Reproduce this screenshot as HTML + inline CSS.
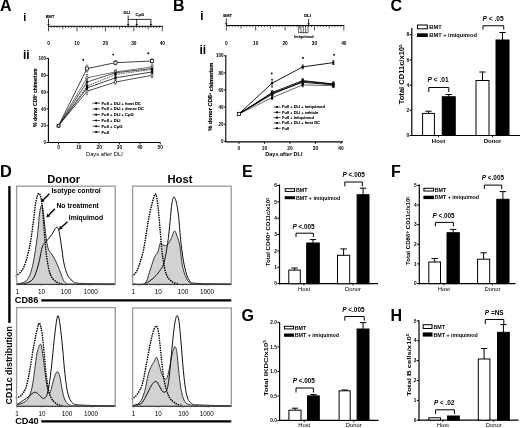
<!DOCTYPE html>
<html><head><meta charset="utf-8"><style>
html,body{margin:0;padding:0;background:#fff;}
svg{display:block;filter:blur(0.3px);}
text{font-family:"Liberation Sans", sans-serif;fill:#000;}
</style></head><body>
<svg width="520" height="428" viewBox="0 0 520 428">
<rect width="520" height="428" fill="#fff"/>
<text x="0.10" y="11.00" font-size="16" text-anchor="start" font-weight="bold">A</text>
<text x="23.20" y="20.80" font-size="11" text-anchor="start" font-weight="bold">i</text>
<text x="23.00" y="58.80" font-size="12" text-anchor="start" font-weight="bold">ii</text>
<line x1="48.20" y1="26.30" x2="162.80" y2="26.30" stroke="#000" stroke-width="1"/>
<line x1="48.50" y1="26.30" x2="48.50" y2="31.30" stroke="#000" stroke-width="0.7"/>
<line x1="51.34" y1="26.30" x2="51.34" y2="27.90" stroke="#000" stroke-width="0.7"/>
<line x1="54.19" y1="26.30" x2="54.19" y2="27.90" stroke="#000" stroke-width="0.7"/>
<line x1="57.03" y1="26.30" x2="57.03" y2="27.90" stroke="#000" stroke-width="0.7"/>
<line x1="59.88" y1="26.30" x2="59.88" y2="27.90" stroke="#000" stroke-width="0.7"/>
<line x1="62.73" y1="26.30" x2="62.73" y2="29.30" stroke="#000" stroke-width="0.7"/>
<line x1="65.57" y1="26.30" x2="65.57" y2="27.90" stroke="#000" stroke-width="0.7"/>
<line x1="68.42" y1="26.30" x2="68.42" y2="27.90" stroke="#000" stroke-width="0.7"/>
<line x1="71.26" y1="26.30" x2="71.26" y2="27.90" stroke="#000" stroke-width="0.7"/>
<line x1="74.11" y1="26.30" x2="74.11" y2="27.90" stroke="#000" stroke-width="0.7"/>
<line x1="76.95" y1="26.30" x2="76.95" y2="31.30" stroke="#000" stroke-width="0.7"/>
<line x1="79.80" y1="26.30" x2="79.80" y2="27.90" stroke="#000" stroke-width="0.7"/>
<line x1="82.64" y1="26.30" x2="82.64" y2="27.90" stroke="#000" stroke-width="0.7"/>
<line x1="85.48" y1="26.30" x2="85.48" y2="27.90" stroke="#000" stroke-width="0.7"/>
<line x1="88.33" y1="26.30" x2="88.33" y2="27.90" stroke="#000" stroke-width="0.7"/>
<line x1="91.18" y1="26.30" x2="91.18" y2="29.30" stroke="#000" stroke-width="0.7"/>
<line x1="94.02" y1="26.30" x2="94.02" y2="27.90" stroke="#000" stroke-width="0.7"/>
<line x1="96.87" y1="26.30" x2="96.87" y2="27.90" stroke="#000" stroke-width="0.7"/>
<line x1="99.71" y1="26.30" x2="99.71" y2="27.90" stroke="#000" stroke-width="0.7"/>
<line x1="102.56" y1="26.30" x2="102.56" y2="27.90" stroke="#000" stroke-width="0.7"/>
<line x1="105.40" y1="26.30" x2="105.40" y2="31.30" stroke="#000" stroke-width="0.7"/>
<line x1="108.25" y1="26.30" x2="108.25" y2="27.90" stroke="#000" stroke-width="0.7"/>
<line x1="111.09" y1="26.30" x2="111.09" y2="27.90" stroke="#000" stroke-width="0.7"/>
<line x1="113.94" y1="26.30" x2="113.94" y2="27.90" stroke="#000" stroke-width="0.7"/>
<line x1="116.78" y1="26.30" x2="116.78" y2="27.90" stroke="#000" stroke-width="0.7"/>
<line x1="119.62" y1="26.30" x2="119.62" y2="29.30" stroke="#000" stroke-width="0.7"/>
<line x1="122.47" y1="26.30" x2="122.47" y2="27.90" stroke="#000" stroke-width="0.7"/>
<line x1="125.32" y1="26.30" x2="125.32" y2="27.90" stroke="#000" stroke-width="0.7"/>
<line x1="128.16" y1="26.30" x2="128.16" y2="27.90" stroke="#000" stroke-width="0.7"/>
<line x1="131.00" y1="26.30" x2="131.00" y2="27.90" stroke="#000" stroke-width="0.7"/>
<line x1="133.85" y1="26.30" x2="133.85" y2="31.30" stroke="#000" stroke-width="0.7"/>
<line x1="136.69" y1="26.30" x2="136.69" y2="27.90" stroke="#000" stroke-width="0.7"/>
<line x1="139.54" y1="26.30" x2="139.54" y2="27.90" stroke="#000" stroke-width="0.7"/>
<line x1="142.38" y1="26.30" x2="142.38" y2="27.90" stroke="#000" stroke-width="0.7"/>
<line x1="145.23" y1="26.30" x2="145.23" y2="27.90" stroke="#000" stroke-width="0.7"/>
<line x1="148.07" y1="26.30" x2="148.07" y2="29.30" stroke="#000" stroke-width="0.7"/>
<line x1="150.92" y1="26.30" x2="150.92" y2="27.90" stroke="#000" stroke-width="0.7"/>
<line x1="153.76" y1="26.30" x2="153.76" y2="27.90" stroke="#000" stroke-width="0.7"/>
<line x1="156.61" y1="26.30" x2="156.61" y2="27.90" stroke="#000" stroke-width="0.7"/>
<line x1="159.46" y1="26.30" x2="159.46" y2="27.90" stroke="#000" stroke-width="0.7"/>
<line x1="162.30" y1="26.30" x2="162.30" y2="31.30" stroke="#000" stroke-width="0.7"/>
<text x="48.50" y="44.70" font-size="4.8" text-anchor="middle" font-weight="bold">0</text>
<text x="76.95" y="44.70" font-size="4.8" text-anchor="middle" font-weight="bold">10</text>
<text x="105.40" y="44.70" font-size="4.8" text-anchor="middle" font-weight="bold">20</text>
<text x="133.85" y="44.70" font-size="4.8" text-anchor="middle" font-weight="bold">30</text>
<text x="162.30" y="44.70" font-size="4.8" text-anchor="middle" font-weight="bold">40</text>
<text x="50.00" y="17.80" font-size="4.0" text-anchor="middle" font-weight="bold" stroke="#000" stroke-width="0.1">BMT</text>
<line x1="48.50" y1="18.80" x2="48.50" y2="24.40" stroke="#000" stroke-width="0.8"/>
<path d="M47.30,24.10 L49.70,24.10 L48.50,26.30 Z" fill="#000" stroke="none" stroke-width="1"/>
<text x="126.90" y="14.20" font-size="4.2" text-anchor="middle" font-weight="bold" stroke="#000" stroke-width="0.1">DLI</text>
<line x1="128.16" y1="15.50" x2="128.16" y2="24.40" stroke="#000" stroke-width="0.8"/>
<path d="M126.96,24.10 L129.36,24.10 L128.16,26.30 Z" fill="#000" stroke="none" stroke-width="1"/>
<line x1="128.16" y1="19.40" x2="150.92" y2="19.40" stroke="#000" stroke-width="0.8"/>
<line x1="136.69" y1="19.40" x2="136.69" y2="24.40" stroke="#000" stroke-width="0.8"/>
<path d="M135.50,24.10 L137.89,24.10 L136.69,26.30 Z" fill="#000" stroke="none" stroke-width="1"/>
<line x1="150.92" y1="19.40" x2="150.92" y2="24.40" stroke="#000" stroke-width="0.8"/>
<path d="M149.72,24.10 L152.12,24.10 L150.92,26.30 Z" fill="#000" stroke="none" stroke-width="1"/>
<text x="139.90" y="15.60" font-size="4.2" text-anchor="middle" font-weight="bold" stroke="#000" stroke-width="0.1">CpG</text>
<line x1="48.40" y1="58.00" x2="48.40" y2="143.00" stroke="#000" stroke-width="1.1"/>
<line x1="47.90" y1="142.50" x2="160.50" y2="142.50" stroke="#000" stroke-width="1.1"/>
<line x1="46.40" y1="142.50" x2="48.40" y2="142.50" stroke="#000" stroke-width="0.9"/>
<text x="46.10" y="144.10" font-size="4.5" text-anchor="end" font-weight="bold">0</text>
<line x1="46.40" y1="125.70" x2="48.40" y2="125.70" stroke="#000" stroke-width="0.9"/>
<text x="46.10" y="127.30" font-size="4.5" text-anchor="end" font-weight="bold">20</text>
<line x1="46.40" y1="108.90" x2="48.40" y2="108.90" stroke="#000" stroke-width="0.9"/>
<text x="46.10" y="110.50" font-size="4.5" text-anchor="end" font-weight="bold">40</text>
<line x1="46.40" y1="92.10" x2="48.40" y2="92.10" stroke="#000" stroke-width="0.9"/>
<text x="46.10" y="93.70" font-size="4.5" text-anchor="end" font-weight="bold">60</text>
<line x1="46.40" y1="75.30" x2="48.40" y2="75.30" stroke="#000" stroke-width="0.9"/>
<text x="46.10" y="76.90" font-size="4.5" text-anchor="end" font-weight="bold">80</text>
<line x1="46.40" y1="58.50" x2="48.40" y2="58.50" stroke="#000" stroke-width="0.9"/>
<text x="46.10" y="60.10" font-size="4.5" text-anchor="end" font-weight="bold">100</text>
<line x1="58.50" y1="142.50" x2="58.50" y2="144.50" stroke="#000" stroke-width="0.9"/>
<text x="58.50" y="149.30" font-size="4.8" text-anchor="middle" font-weight="bold">0</text>
<line x1="78.84" y1="142.50" x2="78.84" y2="144.50" stroke="#000" stroke-width="0.9"/>
<text x="78.84" y="149.30" font-size="4.8" text-anchor="middle" font-weight="bold">10</text>
<line x1="99.18" y1="142.50" x2="99.18" y2="144.50" stroke="#000" stroke-width="0.9"/>
<text x="99.18" y="149.30" font-size="4.8" text-anchor="middle" font-weight="bold">20</text>
<line x1="119.52" y1="142.50" x2="119.52" y2="144.50" stroke="#000" stroke-width="0.9"/>
<text x="119.52" y="149.30" font-size="4.8" text-anchor="middle" font-weight="bold">30</text>
<line x1="139.86" y1="142.50" x2="139.86" y2="144.50" stroke="#000" stroke-width="0.9"/>
<text x="139.86" y="149.30" font-size="4.8" text-anchor="middle" font-weight="bold">40</text>
<line x1="160.20" y1="142.50" x2="160.20" y2="144.50" stroke="#000" stroke-width="0.9"/>
<text x="160.20" y="149.30" font-size="4.8" text-anchor="middle" font-weight="bold">50</text>
<text x="104.40" y="156.00" font-size="5.75" text-anchor="middle" font-weight="normal">Days after DLI</text>
<text x="36.60" y="97.60" font-size="4.9" text-anchor="middle" font-weight="bold" stroke="#000" stroke-width="0.15" textLength="58.3" lengthAdjust="spacingAndGlyphs" transform="rotate(-90 36.6 97.6)">% donor CD8<tspan font-size="0.65em" dy="-0.4em">+</tspan><tspan dy="0.4em"> chimerism</tspan></text>
<path d="M58.50,125.70 L86.98,68.58 L115.45,62.70 L152.06,61.02" fill="none" stroke="#111" stroke-width="0.8"/>
<path d="M58.50,125.70 L86.98,77.82 L115.45,71.94 L152.06,66.90" fill="none" stroke="#555" stroke-width="0.8"/>
<path d="M58.50,125.70 L86.98,82.02 L115.45,72.78 L152.06,68.58" fill="none" stroke="#222" stroke-width="0.8"/>
<path d="M58.50,125.70 L86.98,86.22 L115.45,74.46 L152.06,69.42" fill="none" stroke="#333" stroke-width="0.8" stroke-dasharray="1.6 0.9"/>
<path d="M58.50,125.70 L86.98,87.90 L115.45,77.82 L152.06,71.94" fill="none" stroke="#111" stroke-width="0.8"/>
<path d="M58.50,125.70 L86.98,91.26 L115.45,82.02 L152.06,75.30" fill="none" stroke="#222" stroke-width="0.8"/>
<line x1="86.98" y1="71.94" x2="86.98" y2="65.22" stroke="#222" stroke-width="0.6"/>
<line x1="85.78" y1="65.22" x2="88.18" y2="65.22" stroke="#222" stroke-width="0.6"/>
<line x1="85.78" y1="71.94" x2="88.18" y2="71.94" stroke="#222" stroke-width="0.6"/>
<line x1="115.45" y1="64.80" x2="115.45" y2="60.60" stroke="#222" stroke-width="0.6"/>
<line x1="114.25" y1="60.60" x2="116.65" y2="60.60" stroke="#222" stroke-width="0.6"/>
<line x1="114.25" y1="64.80" x2="116.65" y2="64.80" stroke="#222" stroke-width="0.6"/>
<line x1="152.06" y1="63.12" x2="152.06" y2="58.92" stroke="#222" stroke-width="0.6"/>
<line x1="150.86" y1="58.92" x2="153.26" y2="58.92" stroke="#222" stroke-width="0.6"/>
<line x1="150.86" y1="63.12" x2="153.26" y2="63.12" stroke="#222" stroke-width="0.6"/>
<line x1="86.98" y1="81.18" x2="86.98" y2="74.46" stroke="#222" stroke-width="0.6"/>
<line x1="85.78" y1="74.46" x2="88.18" y2="74.46" stroke="#222" stroke-width="0.6"/>
<line x1="85.78" y1="81.18" x2="88.18" y2="81.18" stroke="#222" stroke-width="0.6"/>
<line x1="115.45" y1="74.04" x2="115.45" y2="69.84" stroke="#222" stroke-width="0.6"/>
<line x1="114.25" y1="69.84" x2="116.65" y2="69.84" stroke="#222" stroke-width="0.6"/>
<line x1="114.25" y1="74.04" x2="116.65" y2="74.04" stroke="#222" stroke-width="0.6"/>
<line x1="152.06" y1="69.00" x2="152.06" y2="64.80" stroke="#222" stroke-width="0.6"/>
<line x1="150.86" y1="64.80" x2="153.26" y2="64.80" stroke="#222" stroke-width="0.6"/>
<line x1="150.86" y1="69.00" x2="153.26" y2="69.00" stroke="#222" stroke-width="0.6"/>
<line x1="86.98" y1="85.38" x2="86.98" y2="78.66" stroke="#222" stroke-width="0.6"/>
<line x1="85.78" y1="78.66" x2="88.18" y2="78.66" stroke="#222" stroke-width="0.6"/>
<line x1="85.78" y1="85.38" x2="88.18" y2="85.38" stroke="#222" stroke-width="0.6"/>
<line x1="115.45" y1="74.88" x2="115.45" y2="70.68" stroke="#222" stroke-width="0.6"/>
<line x1="114.25" y1="70.68" x2="116.65" y2="70.68" stroke="#222" stroke-width="0.6"/>
<line x1="114.25" y1="74.88" x2="116.65" y2="74.88" stroke="#222" stroke-width="0.6"/>
<line x1="152.06" y1="70.68" x2="152.06" y2="66.48" stroke="#222" stroke-width="0.6"/>
<line x1="150.86" y1="66.48" x2="153.26" y2="66.48" stroke="#222" stroke-width="0.6"/>
<line x1="150.86" y1="70.68" x2="153.26" y2="70.68" stroke="#222" stroke-width="0.6"/>
<line x1="86.98" y1="89.58" x2="86.98" y2="82.86" stroke="#222" stroke-width="0.6"/>
<line x1="85.78" y1="82.86" x2="88.18" y2="82.86" stroke="#222" stroke-width="0.6"/>
<line x1="85.78" y1="89.58" x2="88.18" y2="89.58" stroke="#222" stroke-width="0.6"/>
<line x1="115.45" y1="76.56" x2="115.45" y2="72.36" stroke="#222" stroke-width="0.6"/>
<line x1="114.25" y1="72.36" x2="116.65" y2="72.36" stroke="#222" stroke-width="0.6"/>
<line x1="114.25" y1="76.56" x2="116.65" y2="76.56" stroke="#222" stroke-width="0.6"/>
<line x1="152.06" y1="71.52" x2="152.06" y2="67.32" stroke="#222" stroke-width="0.6"/>
<line x1="150.86" y1="67.32" x2="153.26" y2="67.32" stroke="#222" stroke-width="0.6"/>
<line x1="150.86" y1="71.52" x2="153.26" y2="71.52" stroke="#222" stroke-width="0.6"/>
<line x1="86.98" y1="91.26" x2="86.98" y2="84.54" stroke="#222" stroke-width="0.6"/>
<line x1="85.78" y1="84.54" x2="88.18" y2="84.54" stroke="#222" stroke-width="0.6"/>
<line x1="85.78" y1="91.26" x2="88.18" y2="91.26" stroke="#222" stroke-width="0.6"/>
<line x1="115.45" y1="79.92" x2="115.45" y2="75.72" stroke="#222" stroke-width="0.6"/>
<line x1="114.25" y1="75.72" x2="116.65" y2="75.72" stroke="#222" stroke-width="0.6"/>
<line x1="114.25" y1="79.92" x2="116.65" y2="79.92" stroke="#222" stroke-width="0.6"/>
<line x1="152.06" y1="74.04" x2="152.06" y2="69.84" stroke="#222" stroke-width="0.6"/>
<line x1="150.86" y1="69.84" x2="153.26" y2="69.84" stroke="#222" stroke-width="0.6"/>
<line x1="150.86" y1="74.04" x2="153.26" y2="74.04" stroke="#222" stroke-width="0.6"/>
<line x1="86.98" y1="94.62" x2="86.98" y2="87.90" stroke="#222" stroke-width="0.6"/>
<line x1="85.78" y1="87.90" x2="88.18" y2="87.90" stroke="#222" stroke-width="0.6"/>
<line x1="85.78" y1="94.62" x2="88.18" y2="94.62" stroke="#222" stroke-width="0.6"/>
<line x1="115.45" y1="84.12" x2="115.45" y2="79.92" stroke="#222" stroke-width="0.6"/>
<line x1="114.25" y1="79.92" x2="116.65" y2="79.92" stroke="#222" stroke-width="0.6"/>
<line x1="114.25" y1="84.12" x2="116.65" y2="84.12" stroke="#222" stroke-width="0.6"/>
<line x1="152.06" y1="77.40" x2="152.06" y2="73.20" stroke="#222" stroke-width="0.6"/>
<line x1="150.86" y1="73.20" x2="153.26" y2="73.20" stroke="#222" stroke-width="0.6"/>
<line x1="150.86" y1="77.40" x2="153.26" y2="77.40" stroke="#222" stroke-width="0.6"/>
<rect x="57.00" y="124.20" width="3.00" height="3.00" fill="#fff" stroke="#000" stroke-width="0.7"/>
<rect x="85.48" y="67.08" width="3.00" height="3.00" fill="#fff" stroke="#000" stroke-width="0.7"/>
<rect x="113.95" y="61.20" width="3.00" height="3.00" fill="#fff" stroke="#000" stroke-width="0.7"/>
<rect x="150.56" y="59.52" width="3.00" height="3.00" fill="#fff" stroke="#000" stroke-width="0.7"/>
<circle cx="58.50" cy="125.70" r="1.2" fill="#fff" stroke="#000" stroke-width="0.6"/>
<circle cx="86.98" cy="77.82" r="1.2" fill="#fff" stroke="#000" stroke-width="0.6"/>
<circle cx="115.45" cy="71.94" r="1.2" fill="#fff" stroke="#000" stroke-width="0.6"/>
<circle cx="152.06" cy="66.90" r="1.2" fill="#fff" stroke="#000" stroke-width="0.6"/>
<path d="M57.10,126.80 L59.90,126.80 L58.50,124.30 Z" fill="#000"/>
<path d="M85.58,83.12 L88.38,83.12 L86.98,80.62 Z" fill="#000"/>
<path d="M114.05,73.88 L116.85,73.88 L115.45,71.38 Z" fill="#000"/>
<path d="M150.66,69.68 L153.46,69.68 L152.06,67.18 Z" fill="#000"/>
<path d="M57.10,125.70 L58.50,124.30 L59.90,125.70 L58.50,127.10 Z" fill="#000"/>
<path d="M85.58,86.22 L86.98,84.82 L88.38,86.22 L86.98,87.62 Z" fill="#000"/>
<path d="M114.05,74.46 L115.45,73.06 L116.85,74.46 L115.45,75.86 Z" fill="#000"/>
<path d="M150.66,69.42 L152.06,68.02 L153.46,69.42 L152.06,70.82 Z" fill="#000"/>
<circle cx="58.50" cy="125.70" r="1.2" fill="#000"/>
<circle cx="86.98" cy="87.90" r="1.2" fill="#000"/>
<circle cx="115.45" cy="77.82" r="1.2" fill="#000"/>
<circle cx="152.06" cy="71.94" r="1.2" fill="#000"/>
<circle cx="58.50" cy="125.70" r="1.2" fill="#fff" stroke="#000" stroke-width="0.6"/>
<circle cx="86.98" cy="91.26" r="1.2" fill="#fff" stroke="#000" stroke-width="0.6"/>
<circle cx="115.45" cy="82.02" r="1.2" fill="#fff" stroke="#000" stroke-width="0.6"/>
<circle cx="152.06" cy="75.30" r="1.2" fill="#fff" stroke="#000" stroke-width="0.6"/>
<circle cx="83.2" cy="59.7" r="0.95" fill="#000"/>
<circle cx="113.2" cy="54.6" r="0.95" fill="#000"/>
<circle cx="148.3" cy="53.3" r="0.95" fill="#000"/>
<line x1="92.50" y1="103.20" x2="100.00" y2="103.20" stroke="#000" stroke-width="0.7"/>
<circle cx="96.2" cy="103.20" r="1.1" fill="#000"/>
<text x="101.60" y="104.70" font-size="4.15" text-anchor="start" font-weight="bold" stroke="#000" stroke-width="0.1">Full + DLI + host DC</text>
<line x1="92.50" y1="108.96" x2="100.00" y2="108.96" stroke="#000" stroke-width="0.7"/>
<circle cx="96.2" cy="108.96" r="1.1" fill="#000"/>
<text x="101.60" y="110.46" font-size="4.15" text-anchor="start" font-weight="bold" stroke="#000" stroke-width="0.1">Full + DLI + donor DC</text>
<line x1="92.50" y1="114.72" x2="100.00" y2="114.72" stroke="#000" stroke-width="0.7"/>
<circle cx="96.2" cy="114.72" r="1.1" fill="#000"/>
<text x="101.60" y="116.22" font-size="4.15" text-anchor="start" font-weight="bold" stroke="#000" stroke-width="0.1">Full + DLI + CpG</text>
<line x1="92.50" y1="120.48" x2="100.00" y2="120.48" stroke="#000" stroke-width="0.7"/>
<circle cx="96.2" cy="120.48" r="1.1" fill="#000"/>
<text x="101.60" y="121.98" font-size="4.15" text-anchor="start" font-weight="bold" stroke="#000" stroke-width="0.1">Full + DLI</text>
<line x1="92.50" y1="126.24" x2="100.00" y2="126.24" stroke="#000" stroke-width="0.7"/>
<circle cx="96.2" cy="126.24" r="1.1" fill="#000"/>
<text x="101.60" y="127.74" font-size="4.15" text-anchor="start" font-weight="bold" stroke="#000" stroke-width="0.1">Full + CpG</text>
<line x1="92.50" y1="132.00" x2="100.00" y2="132.00" stroke="#000" stroke-width="0.7"/>
<circle cx="96.2" cy="132.00" r="1.1" fill="#000"/>
<text x="101.60" y="133.50" font-size="4.15" text-anchor="start" font-weight="bold" stroke="#000" stroke-width="0.1">Full</text>
<text x="172.90" y="11.10" font-size="16" text-anchor="start" font-weight="bold">B</text>
<text x="200.30" y="20.10" font-size="12" text-anchor="start" font-weight="bold">i</text>
<text x="199.50" y="53.60" font-size="12" text-anchor="start" font-weight="bold">ii</text>
<line x1="226.00" y1="25.50" x2="344.30" y2="25.50" stroke="#000" stroke-width="1"/>
<line x1="226.30" y1="25.50" x2="226.30" y2="30.50" stroke="#000" stroke-width="0.7"/>
<line x1="229.24" y1="25.50" x2="229.24" y2="27.10" stroke="#000" stroke-width="0.7"/>
<line x1="232.18" y1="25.50" x2="232.18" y2="27.10" stroke="#000" stroke-width="0.7"/>
<line x1="235.11" y1="25.50" x2="235.11" y2="27.10" stroke="#000" stroke-width="0.7"/>
<line x1="238.05" y1="25.50" x2="238.05" y2="27.10" stroke="#000" stroke-width="0.7"/>
<line x1="240.99" y1="25.50" x2="240.99" y2="28.50" stroke="#000" stroke-width="0.7"/>
<line x1="243.93" y1="25.50" x2="243.93" y2="27.10" stroke="#000" stroke-width="0.7"/>
<line x1="246.86" y1="25.50" x2="246.86" y2="27.10" stroke="#000" stroke-width="0.7"/>
<line x1="249.80" y1="25.50" x2="249.80" y2="27.10" stroke="#000" stroke-width="0.7"/>
<line x1="252.74" y1="25.50" x2="252.74" y2="27.10" stroke="#000" stroke-width="0.7"/>
<line x1="255.68" y1="25.50" x2="255.68" y2="30.50" stroke="#000" stroke-width="0.7"/>
<line x1="258.61" y1="25.50" x2="258.61" y2="27.10" stroke="#000" stroke-width="0.7"/>
<line x1="261.55" y1="25.50" x2="261.55" y2="27.10" stroke="#000" stroke-width="0.7"/>
<line x1="264.49" y1="25.50" x2="264.49" y2="27.10" stroke="#000" stroke-width="0.7"/>
<line x1="267.43" y1="25.50" x2="267.43" y2="27.10" stroke="#000" stroke-width="0.7"/>
<line x1="270.36" y1="25.50" x2="270.36" y2="28.50" stroke="#000" stroke-width="0.7"/>
<line x1="273.30" y1="25.50" x2="273.30" y2="27.10" stroke="#000" stroke-width="0.7"/>
<line x1="276.24" y1="25.50" x2="276.24" y2="27.10" stroke="#000" stroke-width="0.7"/>
<line x1="279.18" y1="25.50" x2="279.18" y2="27.10" stroke="#000" stroke-width="0.7"/>
<line x1="282.11" y1="25.50" x2="282.11" y2="27.10" stroke="#000" stroke-width="0.7"/>
<line x1="285.05" y1="25.50" x2="285.05" y2="30.50" stroke="#000" stroke-width="0.7"/>
<line x1="287.99" y1="25.50" x2="287.99" y2="27.10" stroke="#000" stroke-width="0.7"/>
<line x1="290.93" y1="25.50" x2="290.93" y2="27.10" stroke="#000" stroke-width="0.7"/>
<line x1="293.86" y1="25.50" x2="293.86" y2="27.10" stroke="#000" stroke-width="0.7"/>
<line x1="296.80" y1="25.50" x2="296.80" y2="27.10" stroke="#000" stroke-width="0.7"/>
<line x1="299.74" y1="25.50" x2="299.74" y2="28.50" stroke="#000" stroke-width="0.7"/>
<line x1="302.68" y1="25.50" x2="302.68" y2="27.10" stroke="#000" stroke-width="0.7"/>
<line x1="305.61" y1="25.50" x2="305.61" y2="27.10" stroke="#000" stroke-width="0.7"/>
<line x1="308.55" y1="25.50" x2="308.55" y2="27.10" stroke="#000" stroke-width="0.7"/>
<line x1="311.49" y1="25.50" x2="311.49" y2="27.10" stroke="#000" stroke-width="0.7"/>
<line x1="314.43" y1="25.50" x2="314.43" y2="30.50" stroke="#000" stroke-width="0.7"/>
<line x1="317.36" y1="25.50" x2="317.36" y2="27.10" stroke="#000" stroke-width="0.7"/>
<line x1="320.30" y1="25.50" x2="320.30" y2="27.10" stroke="#000" stroke-width="0.7"/>
<line x1="323.24" y1="25.50" x2="323.24" y2="27.10" stroke="#000" stroke-width="0.7"/>
<line x1="326.18" y1="25.50" x2="326.18" y2="27.10" stroke="#000" stroke-width="0.7"/>
<line x1="329.11" y1="25.50" x2="329.11" y2="28.50" stroke="#000" stroke-width="0.7"/>
<line x1="332.05" y1="25.50" x2="332.05" y2="27.10" stroke="#000" stroke-width="0.7"/>
<line x1="334.99" y1="25.50" x2="334.99" y2="27.10" stroke="#000" stroke-width="0.7"/>
<line x1="337.93" y1="25.50" x2="337.93" y2="27.10" stroke="#000" stroke-width="0.7"/>
<line x1="340.86" y1="25.50" x2="340.86" y2="27.10" stroke="#000" stroke-width="0.7"/>
<line x1="343.80" y1="25.50" x2="343.80" y2="30.50" stroke="#000" stroke-width="0.7"/>
<text x="226.30" y="44.50" font-size="4.8" text-anchor="middle" font-weight="bold">0</text>
<text x="255.68" y="44.50" font-size="4.8" text-anchor="middle" font-weight="bold">10</text>
<text x="285.05" y="44.50" font-size="4.8" text-anchor="middle" font-weight="bold">20</text>
<text x="314.43" y="44.50" font-size="4.8" text-anchor="middle" font-weight="bold">30</text>
<text x="343.80" y="44.50" font-size="4.8" text-anchor="middle" font-weight="bold">40</text>
<text x="227.70" y="16.80" font-size="4.0" text-anchor="middle" font-weight="bold" stroke="#000" stroke-width="0.1">BMT</text>
<line x1="226.30" y1="18.30" x2="226.30" y2="23.60" stroke="#000" stroke-width="0.8"/>
<path d="M225.10,23.30 L227.50,23.30 L226.30,25.50 Z" fill="#000" stroke="none" stroke-width="1"/>
<text x="307.50" y="16.90" font-size="4.4" text-anchor="middle" font-weight="bold" stroke="#000" stroke-width="0.1">DLI</text>
<line x1="308.55" y1="18.80" x2="308.55" y2="23.60" stroke="#000" stroke-width="0.8"/>
<path d="M307.35,23.30 L309.75,23.30 L308.55,25.50 Z" fill="#000" stroke="none" stroke-width="1"/>
<line x1="298.60" y1="25.50" x2="298.60" y2="32.70" stroke="#000" stroke-width="0.6"/>
<line x1="300.95" y1="25.50" x2="300.95" y2="32.70" stroke="#000" stroke-width="0.6"/>
<line x1="303.30" y1="25.50" x2="303.30" y2="32.70" stroke="#000" stroke-width="0.6"/>
<line x1="305.65" y1="25.50" x2="305.65" y2="32.70" stroke="#000" stroke-width="0.6"/>
<line x1="308.00" y1="25.50" x2="308.00" y2="32.70" stroke="#000" stroke-width="0.6"/>
<line x1="298.60" y1="32.70" x2="308.00" y2="32.70" stroke="#000" stroke-width="0.7"/>
<text x="303.90" y="37.60" font-size="4.2" text-anchor="middle" font-weight="bold" stroke="#000" stroke-width="0.1" textLength="19.5" lengthAdjust="spacingAndGlyphs">Imiquimod</text>
<line x1="225.80" y1="55.30" x2="225.80" y2="141.80" stroke="#000" stroke-width="1.1"/>
<line x1="225.30" y1="141.90" x2="343.00" y2="141.90" stroke="#000" stroke-width="1.1"/>
<line x1="223.80" y1="141.30" x2="225.80" y2="141.30" stroke="#000" stroke-width="0.9"/>
<text x="223.50" y="142.90" font-size="4.5" text-anchor="end" font-weight="bold">0</text>
<line x1="223.80" y1="124.20" x2="225.80" y2="124.20" stroke="#000" stroke-width="0.9"/>
<text x="223.50" y="125.80" font-size="4.5" text-anchor="end" font-weight="bold">20</text>
<line x1="223.80" y1="107.10" x2="225.80" y2="107.10" stroke="#000" stroke-width="0.9"/>
<text x="223.50" y="108.70" font-size="4.5" text-anchor="end" font-weight="bold">40</text>
<line x1="223.80" y1="90.00" x2="225.80" y2="90.00" stroke="#000" stroke-width="0.9"/>
<text x="223.50" y="91.60" font-size="4.5" text-anchor="end" font-weight="bold">60</text>
<line x1="223.80" y1="72.90" x2="225.80" y2="72.90" stroke="#000" stroke-width="0.9"/>
<text x="223.50" y="74.50" font-size="4.5" text-anchor="end" font-weight="bold">80</text>
<line x1="223.80" y1="55.80" x2="225.80" y2="55.80" stroke="#000" stroke-width="0.9"/>
<text x="223.50" y="57.40" font-size="4.5" text-anchor="end" font-weight="bold">100</text>
<line x1="238.90" y1="141.90" x2="238.90" y2="143.90" stroke="#000" stroke-width="0.9"/>
<text x="238.90" y="149.50" font-size="4.8" text-anchor="middle" font-weight="bold">0</text>
<line x1="264.43" y1="141.90" x2="264.43" y2="143.90" stroke="#000" stroke-width="0.9"/>
<text x="264.43" y="149.50" font-size="4.8" text-anchor="middle" font-weight="bold">10</text>
<line x1="289.95" y1="141.90" x2="289.95" y2="143.90" stroke="#000" stroke-width="0.9"/>
<text x="289.95" y="149.50" font-size="4.8" text-anchor="middle" font-weight="bold">20</text>
<line x1="315.48" y1="141.90" x2="315.48" y2="143.90" stroke="#000" stroke-width="0.9"/>
<text x="315.48" y="149.50" font-size="4.8" text-anchor="middle" font-weight="bold">30</text>
<line x1="341.00" y1="141.90" x2="341.00" y2="143.90" stroke="#000" stroke-width="0.9"/>
<text x="341.00" y="149.50" font-size="4.8" text-anchor="middle" font-weight="bold">40</text>
<text x="283.90" y="155.70" font-size="5.55" text-anchor="middle" font-weight="bold">Days after DLI</text>
<text x="212.30" y="96.70" font-size="5.4" text-anchor="middle" font-weight="bold" stroke="#000" stroke-width="0.18" textLength="68.2" lengthAdjust="spacingAndGlyphs" transform="rotate(-90 212.3 96.7)">% donor CD8<tspan font-size="0.65em" dy="-0.4em">+</tspan><tspan dy="0.4em"> chimerism</tspan></text>
<path d="M238.90,113.94 L272.08,83.16 L302.71,66.92 L333.34,62.64" fill="none" stroke="#000" stroke-width="0.9"/>
<circle cx="238.90" cy="113.94" r="1.2" fill="#000"/>
<circle cx="272.08" cy="83.16" r="1.2" fill="#000"/>
<circle cx="302.71" cy="66.92" r="1.2" fill="#000"/>
<circle cx="333.34" cy="62.64" r="1.2" fill="#000"/>
<path d="M238.90,113.94 L272.08,92.56 L302.71,80.59 L333.34,84.02" fill="none" stroke="#000" stroke-width="0.9"/>
<circle cx="238.90" cy="113.94" r="1.2" fill="#000"/>
<circle cx="272.08" cy="92.56" r="1.2" fill="#000"/>
<circle cx="302.71" cy="80.59" r="1.2" fill="#000"/>
<circle cx="333.34" cy="84.02" r="1.2" fill="#000"/>
<path d="M238.90,113.94 L272.08,94.28 L302.71,81.45 L333.34,84.02" fill="none" stroke="#000" stroke-width="0.9"/>
<circle cx="238.90" cy="113.94" r="1.2" fill="#000"/>
<circle cx="272.08" cy="94.28" r="1.2" fill="#000"/>
<circle cx="302.71" cy="81.45" r="1.2" fill="#000"/>
<circle cx="333.34" cy="84.02" r="1.2" fill="#000"/>
<path d="M238.90,113.94 L272.08,93.42 L302.71,82.31 L333.34,84.87" fill="none" stroke="#000" stroke-width="0.9"/>
<circle cx="238.90" cy="113.94" r="1.2" fill="#000"/>
<circle cx="272.08" cy="93.42" r="1.2" fill="#000"/>
<circle cx="302.71" cy="82.31" r="1.2" fill="#000"/>
<circle cx="333.34" cy="84.87" r="1.2" fill="#000"/>
<path d="M238.90,113.94 L272.08,97.69 L302.71,84.87 L333.34,85.72" fill="none" stroke="#000" stroke-width="0.6"/>
<circle cx="238.90" cy="113.94" r="1.2" fill="#000"/>
<circle cx="272.08" cy="97.69" r="1.2" fill="#000"/>
<circle cx="302.71" cy="84.87" r="1.2" fill="#000"/>
<circle cx="333.34" cy="85.72" r="1.2" fill="#000"/>
<rect x="237.30" y="112.34" width="3.20" height="3.20" fill="#fff" stroke="#000" stroke-width="0.8"/>
<line x1="272.08" y1="87.01" x2="272.08" y2="79.31" stroke="#000" stroke-width="0.7"/>
<line x1="270.88" y1="79.31" x2="273.28" y2="79.31" stroke="#000" stroke-width="0.7"/>
<line x1="270.88" y1="87.01" x2="273.28" y2="87.01" stroke="#000" stroke-width="0.7"/>
<line x1="302.71" y1="68.80" x2="302.71" y2="65.03" stroke="#000" stroke-width="0.7"/>
<line x1="301.51" y1="65.03" x2="303.91" y2="65.03" stroke="#000" stroke-width="0.7"/>
<line x1="301.51" y1="68.80" x2="303.91" y2="68.80" stroke="#000" stroke-width="0.7"/>
<line x1="333.34" y1="64.52" x2="333.34" y2="60.76" stroke="#000" stroke-width="0.7"/>
<line x1="332.14" y1="60.76" x2="334.54" y2="60.76" stroke="#000" stroke-width="0.7"/>
<line x1="332.14" y1="64.52" x2="334.54" y2="64.52" stroke="#000" stroke-width="0.7"/>
<line x1="272.08" y1="94.45" x2="272.08" y2="90.68" stroke="#000" stroke-width="0.7"/>
<line x1="270.88" y1="90.68" x2="273.28" y2="90.68" stroke="#000" stroke-width="0.7"/>
<line x1="270.88" y1="94.45" x2="273.28" y2="94.45" stroke="#000" stroke-width="0.7"/>
<line x1="302.71" y1="82.48" x2="302.71" y2="78.71" stroke="#000" stroke-width="0.7"/>
<line x1="301.51" y1="78.71" x2="303.91" y2="78.71" stroke="#000" stroke-width="0.7"/>
<line x1="301.51" y1="82.48" x2="303.91" y2="82.48" stroke="#000" stroke-width="0.7"/>
<line x1="333.34" y1="85.90" x2="333.34" y2="82.13" stroke="#000" stroke-width="0.7"/>
<line x1="332.14" y1="82.13" x2="334.54" y2="82.13" stroke="#000" stroke-width="0.7"/>
<line x1="332.14" y1="85.90" x2="334.54" y2="85.90" stroke="#000" stroke-width="0.7"/>
<line x1="272.08" y1="96.16" x2="272.08" y2="92.39" stroke="#000" stroke-width="0.7"/>
<line x1="270.88" y1="92.39" x2="273.28" y2="92.39" stroke="#000" stroke-width="0.7"/>
<line x1="270.88" y1="96.16" x2="273.28" y2="96.16" stroke="#000" stroke-width="0.7"/>
<line x1="302.71" y1="83.33" x2="302.71" y2="79.57" stroke="#000" stroke-width="0.7"/>
<line x1="301.51" y1="79.57" x2="303.91" y2="79.57" stroke="#000" stroke-width="0.7"/>
<line x1="301.51" y1="83.33" x2="303.91" y2="83.33" stroke="#000" stroke-width="0.7"/>
<line x1="333.34" y1="85.90" x2="333.34" y2="82.13" stroke="#000" stroke-width="0.7"/>
<line x1="332.14" y1="82.13" x2="334.54" y2="82.13" stroke="#000" stroke-width="0.7"/>
<line x1="332.14" y1="85.90" x2="334.54" y2="85.90" stroke="#000" stroke-width="0.7"/>
<line x1="272.08" y1="95.30" x2="272.08" y2="91.54" stroke="#000" stroke-width="0.7"/>
<line x1="270.88" y1="91.54" x2="273.28" y2="91.54" stroke="#000" stroke-width="0.7"/>
<line x1="270.88" y1="95.30" x2="273.28" y2="95.30" stroke="#000" stroke-width="0.7"/>
<line x1="302.71" y1="84.19" x2="302.71" y2="80.42" stroke="#000" stroke-width="0.7"/>
<line x1="301.51" y1="80.42" x2="303.91" y2="80.42" stroke="#000" stroke-width="0.7"/>
<line x1="301.51" y1="84.19" x2="303.91" y2="84.19" stroke="#000" stroke-width="0.7"/>
<line x1="333.34" y1="86.75" x2="333.34" y2="82.99" stroke="#000" stroke-width="0.7"/>
<line x1="332.14" y1="82.99" x2="334.54" y2="82.99" stroke="#000" stroke-width="0.7"/>
<line x1="332.14" y1="86.75" x2="334.54" y2="86.75" stroke="#000" stroke-width="0.7"/>
<line x1="272.08" y1="99.58" x2="272.08" y2="95.81" stroke="#000" stroke-width="0.7"/>
<line x1="270.88" y1="95.81" x2="273.28" y2="95.81" stroke="#000" stroke-width="0.7"/>
<line x1="270.88" y1="99.58" x2="273.28" y2="99.58" stroke="#000" stroke-width="0.7"/>
<line x1="302.71" y1="86.75" x2="302.71" y2="82.99" stroke="#000" stroke-width="0.7"/>
<line x1="301.51" y1="82.99" x2="303.91" y2="82.99" stroke="#000" stroke-width="0.7"/>
<line x1="301.51" y1="86.75" x2="303.91" y2="86.75" stroke="#000" stroke-width="0.7"/>
<line x1="333.34" y1="87.61" x2="333.34" y2="83.84" stroke="#000" stroke-width="0.7"/>
<line x1="332.14" y1="83.84" x2="334.54" y2="83.84" stroke="#000" stroke-width="0.7"/>
<line x1="332.14" y1="87.61" x2="334.54" y2="87.61" stroke="#000" stroke-width="0.7"/>
<circle cx="271.7" cy="73.4" r="0.95" fill="#000"/>
<circle cx="302.9" cy="58.0" r="0.95" fill="#000"/>
<circle cx="334.0" cy="54.7" r="0.95" fill="#000"/>
<line x1="273.50" y1="107.00" x2="280.50" y2="107.00" stroke="#000" stroke-width="0.7"/>
<circle cx="277" cy="107.00" r="1.1" fill="#000"/>
<text x="282.00" y="108.40" font-size="4.0" text-anchor="start" font-weight="bold" stroke="#000" stroke-width="0.1">Full + DLI + imiquimod</text>
<line x1="273.50" y1="112.33" x2="280.50" y2="112.33" stroke="#000" stroke-width="0.7"/>
<circle cx="277" cy="112.33" r="1.1" fill="#000"/>
<text x="282.00" y="113.73" font-size="4.0" text-anchor="start" font-weight="bold" stroke="#000" stroke-width="0.1">Full + DLI + vehicle</text>
<line x1="273.50" y1="117.66" x2="280.50" y2="117.66" stroke="#000" stroke-width="0.7"/>
<circle cx="277" cy="117.66" r="1.1" fill="#000"/>
<text x="282.00" y="119.06" font-size="4.0" text-anchor="start" font-weight="bold" stroke="#000" stroke-width="0.1">Full + imiquimod</text>
<line x1="273.50" y1="122.99" x2="280.50" y2="122.99" stroke="#000" stroke-width="0.7"/>
<circle cx="277" cy="122.99" r="1.1" fill="#000"/>
<text x="282.00" y="124.39" font-size="4.0" text-anchor="start" font-weight="bold" stroke="#000" stroke-width="0.1">Full + DLI + host DC</text>
<line x1="273.50" y1="128.32" x2="280.50" y2="128.32" stroke="#000" stroke-width="0.7"/>
<circle cx="277" cy="128.32" r="1.1" fill="#000"/>
<text x="282.00" y="129.72" font-size="4.0" text-anchor="start" font-weight="bold" stroke="#000" stroke-width="0.1">Full</text>
<text x="390.40" y="11.20" font-size="16" text-anchor="start" font-weight="bold">C</text>
<line x1="411.80" y1="28.00" x2="411.80" y2="136.10" stroke="#000" stroke-width="1.2"/>
<line x1="411.20" y1="135.50" x2="520.00" y2="135.50" stroke="#000" stroke-width="1.2"/>
<line x1="409.60" y1="135.50" x2="411.80" y2="135.50" stroke="#000" stroke-width="1.0"/>
<text x="409.20" y="137.20" font-size="4.8" text-anchor="end" font-weight="bold">0</text>
<line x1="409.60" y1="110.30" x2="411.80" y2="110.30" stroke="#000" stroke-width="1.0"/>
<text x="409.20" y="112.00" font-size="4.8" text-anchor="end" font-weight="bold">2</text>
<line x1="409.60" y1="85.10" x2="411.80" y2="85.10" stroke="#000" stroke-width="1.0"/>
<text x="409.20" y="86.80" font-size="4.8" text-anchor="end" font-weight="bold">4</text>
<line x1="409.60" y1="59.90" x2="411.80" y2="59.90" stroke="#000" stroke-width="1.0"/>
<text x="409.20" y="61.60" font-size="4.8" text-anchor="end" font-weight="bold">6</text>
<line x1="409.60" y1="34.70" x2="411.80" y2="34.70" stroke="#000" stroke-width="1.0"/>
<text x="409.20" y="36.40" font-size="4.8" text-anchor="end" font-weight="bold">8</text>
<line x1="428.50" y1="113.40" x2="428.50" y2="111.20" stroke="#000" stroke-width="1.0"/>
<line x1="425.30" y1="111.20" x2="431.70" y2="111.20" stroke="#000" stroke-width="1.0"/>
<rect x="422.60" y="113.40" width="11.80" height="22.10" fill="#fff" stroke="#000" stroke-width="1.0"/>
<line x1="448.75" y1="96.75" x2="448.75" y2="94.50" stroke="#000" stroke-width="1.0"/>
<line x1="445.55" y1="94.50" x2="451.95" y2="94.50" stroke="#000" stroke-width="1.0"/>
<rect x="442.25" y="96.75" width="13.00" height="38.75" fill="#000" stroke="#000" stroke-width="1.0"/>
<line x1="482.50" y1="80.50" x2="482.50" y2="72.00" stroke="#000" stroke-width="1.0"/>
<line x1="479.30" y1="72.00" x2="485.70" y2="72.00" stroke="#000" stroke-width="1.0"/>
<rect x="476.00" y="80.50" width="13.00" height="55.00" fill="#fff" stroke="#000" stroke-width="1.0"/>
<line x1="502.50" y1="40.00" x2="502.50" y2="32.50" stroke="#000" stroke-width="1.0"/>
<line x1="499.30" y1="32.50" x2="505.70" y2="32.50" stroke="#000" stroke-width="1.0"/>
<rect x="496.00" y="40.00" width="13.00" height="95.50" fill="#000" stroke="#000" stroke-width="1.0"/>
<line x1="438.50" y1="135.50" x2="438.50" y2="137.30" stroke="#000" stroke-width="0.9"/>
<line x1="492.50" y1="135.50" x2="492.50" y2="137.30" stroke="#000" stroke-width="0.9"/>
<rect x="417.50" y="25.00" width="9.80" height="3.80" fill="#fff" stroke="#000" stroke-width="1.0"/>
<rect x="417.00" y="33.30" width="10.80" height="3.70" fill="#000" stroke="none" stroke-width="1"/>
<text x="429.30" y="28.90" font-size="5.7" text-anchor="start" font-weight="bold">BMT</text>
<text x="429.30" y="37.15" font-size="5.7" text-anchor="start" font-weight="bold">BMT + imiquimod</text>
<text x="438.10" y="81.70" font-size="6.6" text-anchor="middle" font-weight="bold"><tspan font-style="italic">P</tspan> &lt; .01</text>
<path d="M428.75,92.00 L428.75,87.50 L448.75,87.50 L448.75,92.00" fill="none" stroke="#000" stroke-width="1.0"/>
<text x="493.10" y="20.95" font-size="6.6" text-anchor="middle" font-weight="bold"><tspan font-style="italic">P</tspan> &lt; .05</text>
<path d="M483.00,29.50 L483.00,25.75 L503.75,25.75 L503.75,29.50" fill="none" stroke="#000" stroke-width="1.0"/>
<text x="403.68" y="74.30" font-size="6.6" text-anchor="middle" font-weight="bold" textLength="60" lengthAdjust="spacingAndGlyphs" transform="rotate(-90 403.676 74.3)">Total CD11c/x10<tspan font-size="0.62em" dy="-0.45em">5</tspan></text>
<text x="438.50" y="143.30" font-size="6.0" text-anchor="middle" font-weight="bold">Host</text>
<text x="492.50" y="143.30" font-size="6.0" text-anchor="middle" font-weight="bold">Donor</text>
<text x="241.90" y="176.80" font-size="16" text-anchor="start" font-weight="bold">E</text>
<line x1="279.50" y1="184.50" x2="279.50" y2="284.30" stroke="#000" stroke-width="1.2"/>
<line x1="278.90" y1="283.70" x2="378.00" y2="283.70" stroke="#000" stroke-width="1.2"/>
<line x1="277.30" y1="283.60" x2="279.50" y2="283.60" stroke="#000" stroke-width="1.0"/>
<text x="276.90" y="285.30" font-size="4.8" text-anchor="end" font-weight="bold">0</text>
<line x1="277.30" y1="267.25" x2="279.50" y2="267.25" stroke="#000" stroke-width="1.0"/>
<text x="276.90" y="268.95" font-size="4.8" text-anchor="end" font-weight="bold">1</text>
<line x1="277.30" y1="250.90" x2="279.50" y2="250.90" stroke="#000" stroke-width="1.0"/>
<text x="276.90" y="252.60" font-size="4.8" text-anchor="end" font-weight="bold">2</text>
<line x1="277.30" y1="234.55" x2="279.50" y2="234.55" stroke="#000" stroke-width="1.0"/>
<text x="276.90" y="236.25" font-size="4.8" text-anchor="end" font-weight="bold">3</text>
<line x1="277.30" y1="218.20" x2="279.50" y2="218.20" stroke="#000" stroke-width="1.0"/>
<text x="276.90" y="219.90" font-size="4.8" text-anchor="end" font-weight="bold">4</text>
<line x1="277.30" y1="201.85" x2="279.50" y2="201.85" stroke="#000" stroke-width="1.0"/>
<text x="276.90" y="203.55" font-size="4.8" text-anchor="end" font-weight="bold">5</text>
<line x1="277.30" y1="185.50" x2="279.50" y2="185.50" stroke="#000" stroke-width="1.0"/>
<text x="276.90" y="187.20" font-size="4.8" text-anchor="end" font-weight="bold">6</text>
<line x1="294.55" y1="270.10" x2="294.55" y2="268.00" stroke="#000" stroke-width="1.0"/>
<line x1="291.35" y1="268.00" x2="297.75" y2="268.00" stroke="#000" stroke-width="1.0"/>
<rect x="288.80" y="270.10" width="11.50" height="13.60" fill="#fff" stroke="#000" stroke-width="1.0"/>
<line x1="313.00" y1="243.00" x2="313.00" y2="239.60" stroke="#000" stroke-width="1.0"/>
<line x1="309.80" y1="239.60" x2="316.20" y2="239.60" stroke="#000" stroke-width="1.0"/>
<rect x="306.70" y="243.00" width="12.60" height="40.70" fill="#000" stroke="#000" stroke-width="1.0"/>
<line x1="343.60" y1="255.30" x2="343.60" y2="248.90" stroke="#000" stroke-width="1.0"/>
<line x1="340.40" y1="248.90" x2="346.80" y2="248.90" stroke="#000" stroke-width="1.0"/>
<rect x="337.50" y="255.30" width="12.20" height="28.40" fill="#fff" stroke="#000" stroke-width="1.0"/>
<line x1="363.05" y1="194.70" x2="363.05" y2="188.20" stroke="#000" stroke-width="1.0"/>
<line x1="359.85" y1="188.20" x2="366.25" y2="188.20" stroke="#000" stroke-width="1.0"/>
<rect x="357.10" y="194.70" width="11.90" height="89.00" fill="#000" stroke="#000" stroke-width="1.0"/>
<line x1="304.00" y1="283.70" x2="304.00" y2="285.50" stroke="#000" stroke-width="0.9"/>
<line x1="353.00" y1="283.70" x2="353.00" y2="285.50" stroke="#000" stroke-width="0.9"/>
<rect x="285.20" y="188.70" width="9.40" height="2.70" fill="#fff" stroke="#000" stroke-width="1.0"/>
<rect x="284.70" y="196.20" width="10.40" height="3.00" fill="#000" stroke="none" stroke-width="1"/>
<text x="295.90" y="192.05" font-size="5.3" text-anchor="start" font-weight="bold">BMT</text>
<text x="295.90" y="199.70" font-size="5.3" text-anchor="start" font-weight="bold">BMT + imiquimod</text>
<text x="303.50" y="229.20" font-size="6.4" text-anchor="middle" font-weight="bold"><tspan font-style="italic">P</tspan> &lt;.005</text>
<path d="M296.00,237.00 L296.00,233.20 L313.40,233.20 L313.40,237.00" fill="none" stroke="#000" stroke-width="1.0"/>
<text x="353.70" y="176.90" font-size="6.4" text-anchor="middle" font-weight="bold"><tspan font-style="italic">P</tspan> &lt;.005</text>
<path d="M344.80,186.40 L344.80,182.00 L362.30,182.00 L362.30,186.40" fill="none" stroke="#000" stroke-width="1.0"/>
<text x="270.32" y="232.00" font-size="5.9" text-anchor="middle" font-weight="bold" textLength="68.5" lengthAdjust="spacingAndGlyphs" transform="rotate(-90 270.324 232.0)">Total CD40<tspan font-size="0.75em" dy="-0.4em">+</tspan><tspan dy="0.3em"> </tspan>CD11c/x10<tspan font-size="0.62em" dy="-0.45em">5</tspan></text>
<text x="304.00" y="290.60" font-size="5.9" text-anchor="middle" font-weight="normal">Host</text>
<text x="353.00" y="290.60" font-size="5.9" text-anchor="middle" font-weight="normal">Donor</text>
<text x="391.00" y="176.80" font-size="16" text-anchor="start" font-weight="bold">F</text>
<line x1="419.30" y1="184.50" x2="419.30" y2="284.20" stroke="#000" stroke-width="1.2"/>
<line x1="418.70" y1="283.60" x2="515.50" y2="283.60" stroke="#000" stroke-width="1.2"/>
<line x1="417.10" y1="283.50" x2="419.30" y2="283.50" stroke="#000" stroke-width="1.0"/>
<text x="416.70" y="285.20" font-size="4.8" text-anchor="end" font-weight="bold">0</text>
<line x1="417.10" y1="263.88" x2="419.30" y2="263.88" stroke="#000" stroke-width="1.0"/>
<text x="416.70" y="265.58" font-size="4.8" text-anchor="end" font-weight="bold">1</text>
<line x1="417.10" y1="244.26" x2="419.30" y2="244.26" stroke="#000" stroke-width="1.0"/>
<text x="416.70" y="245.96" font-size="4.8" text-anchor="end" font-weight="bold">2</text>
<line x1="417.10" y1="224.64" x2="419.30" y2="224.64" stroke="#000" stroke-width="1.0"/>
<text x="416.70" y="226.34" font-size="4.8" text-anchor="end" font-weight="bold">3</text>
<line x1="417.10" y1="205.02" x2="419.30" y2="205.02" stroke="#000" stroke-width="1.0"/>
<text x="416.70" y="206.72" font-size="4.8" text-anchor="end" font-weight="bold">4</text>
<line x1="417.10" y1="185.40" x2="419.30" y2="185.40" stroke="#000" stroke-width="1.0"/>
<text x="416.70" y="187.10" font-size="4.8" text-anchor="end" font-weight="bold">5</text>
<line x1="434.65" y1="262.00" x2="434.65" y2="258.50" stroke="#000" stroke-width="1.0"/>
<line x1="431.45" y1="258.50" x2="437.85" y2="258.50" stroke="#000" stroke-width="1.0"/>
<rect x="428.80" y="262.00" width="11.70" height="21.60" fill="#fff" stroke="#000" stroke-width="1.0"/>
<line x1="453.15" y1="232.70" x2="453.15" y2="229.40" stroke="#000" stroke-width="1.0"/>
<line x1="449.95" y1="229.40" x2="456.35" y2="229.40" stroke="#000" stroke-width="1.0"/>
<rect x="447.00" y="232.70" width="12.30" height="50.90" fill="#000" stroke="#000" stroke-width="1.0"/>
<line x1="483.65" y1="259.20" x2="483.65" y2="252.80" stroke="#000" stroke-width="1.0"/>
<line x1="480.45" y1="252.80" x2="486.85" y2="252.80" stroke="#000" stroke-width="1.0"/>
<rect x="477.60" y="259.20" width="12.10" height="24.40" fill="#fff" stroke="#000" stroke-width="1.0"/>
<line x1="502.90" y1="199.30" x2="502.90" y2="191.60" stroke="#000" stroke-width="1.0"/>
<line x1="499.70" y1="191.60" x2="506.10" y2="191.60" stroke="#000" stroke-width="1.0"/>
<rect x="496.80" y="199.30" width="12.20" height="84.30" fill="#000" stroke="#000" stroke-width="1.0"/>
<line x1="443.90" y1="283.60" x2="443.90" y2="285.40" stroke="#000" stroke-width="0.9"/>
<line x1="492.40" y1="283.60" x2="492.40" y2="285.40" stroke="#000" stroke-width="0.9"/>
<rect x="423.90" y="188.30" width="9.70" height="2.70" fill="#fff" stroke="#000" stroke-width="1.0"/>
<rect x="423.40" y="195.70" width="10.70" height="3.40" fill="#000" stroke="none" stroke-width="1"/>
<text x="434.80" y="191.65" font-size="5.3" text-anchor="start" font-weight="bold">BMT</text>
<text x="434.80" y="199.40" font-size="5.3" text-anchor="start" font-weight="bold">BMT + imiquimod</text>
<text x="443.50" y="218.20" font-size="6.4" text-anchor="middle" font-weight="bold"><tspan font-style="italic">P</tspan> &lt;.005</text>
<path d="M435.40,226.30 L435.40,222.40 L453.40,222.40 L453.40,226.30" fill="none" stroke="#000" stroke-width="1.0"/>
<text x="492.90" y="180.20" font-size="6.4" text-anchor="middle" font-weight="bold"><tspan font-style="italic">P</tspan> &lt;.005</text>
<path d="M484.30,189.00 L484.30,185.10 L501.70,185.10 L501.70,189.00" fill="none" stroke="#000" stroke-width="1.0"/>
<text x="410.32" y="230.80" font-size="5.9" text-anchor="middle" font-weight="bold" textLength="68.5" lengthAdjust="spacingAndGlyphs" transform="rotate(-90 410.324 230.8)">Total CD86<tspan font-size="0.75em" dy="-0.4em">+</tspan><tspan dy="0.3em"> </tspan>CD11c/x10<tspan font-size="0.62em" dy="-0.45em">5</tspan></text>
<text x="443.90" y="290.60" font-size="5.9" text-anchor="middle" font-weight="normal">Host</text>
<text x="492.40" y="290.60" font-size="5.9" text-anchor="middle" font-weight="normal">Donor</text>
<text x="241.60" y="320.80" font-size="16" text-anchor="start" font-weight="bold">G</text>
<line x1="279.60" y1="322.30" x2="279.60" y2="421.00" stroke="#000" stroke-width="1.2"/>
<line x1="279.00" y1="420.40" x2="378.50" y2="420.40" stroke="#000" stroke-width="1.2"/>
<line x1="277.40" y1="420.60" x2="279.60" y2="420.60" stroke="#000" stroke-width="1.0"/>
<text x="277.00" y="422.30" font-size="4.8" text-anchor="end" font-weight="bold">0.0</text>
<line x1="277.40" y1="396.03" x2="279.60" y2="396.03" stroke="#000" stroke-width="1.0"/>
<text x="277.00" y="397.73" font-size="4.8" text-anchor="end" font-weight="bold">0.5</text>
<line x1="277.40" y1="371.45" x2="279.60" y2="371.45" stroke="#000" stroke-width="1.0"/>
<text x="277.00" y="373.15" font-size="4.8" text-anchor="end" font-weight="bold">1.0</text>
<line x1="277.40" y1="346.88" x2="279.60" y2="346.88" stroke="#000" stroke-width="1.0"/>
<text x="277.00" y="348.57" font-size="4.8" text-anchor="end" font-weight="bold">1.5</text>
<line x1="277.40" y1="322.30" x2="279.60" y2="322.30" stroke="#000" stroke-width="1.0"/>
<text x="277.00" y="324.00" font-size="4.8" text-anchor="end" font-weight="bold">2.0</text>
<line x1="294.95" y1="410.20" x2="294.95" y2="408.20" stroke="#000" stroke-width="1.0"/>
<line x1="291.75" y1="408.20" x2="298.15" y2="408.20" stroke="#000" stroke-width="1.0"/>
<rect x="288.90" y="410.20" width="12.10" height="10.20" fill="#fff" stroke="#000" stroke-width="1.0"/>
<line x1="313.40" y1="395.90" x2="313.40" y2="394.60" stroke="#000" stroke-width="1.0"/>
<line x1="310.20" y1="394.60" x2="316.60" y2="394.60" stroke="#000" stroke-width="1.0"/>
<rect x="307.50" y="395.90" width="11.80" height="24.50" fill="#000" stroke="#000" stroke-width="1.0"/>
<line x1="344.65" y1="390.80" x2="344.65" y2="390.00" stroke="#000" stroke-width="1.0"/>
<line x1="341.45" y1="390.00" x2="347.85" y2="390.00" stroke="#000" stroke-width="1.0"/>
<rect x="339.10" y="390.80" width="11.10" height="29.60" fill="#fff" stroke="#000" stroke-width="1.0"/>
<line x1="363.05" y1="329.00" x2="363.05" y2="322.60" stroke="#000" stroke-width="1.0"/>
<line x1="359.85" y1="322.60" x2="366.25" y2="322.60" stroke="#000" stroke-width="1.0"/>
<rect x="357.10" y="329.00" width="11.90" height="91.40" fill="#000" stroke="#000" stroke-width="1.0"/>
<line x1="304.20" y1="420.40" x2="304.20" y2="422.20" stroke="#000" stroke-width="0.9"/>
<line x1="353.80" y1="420.40" x2="353.80" y2="422.20" stroke="#000" stroke-width="0.9"/>
<rect x="284.50" y="326.30" width="9.10" height="2.60" fill="#fff" stroke="#000" stroke-width="1.0"/>
<rect x="284.00" y="333.50" width="10.10" height="3.30" fill="#000" stroke="none" stroke-width="1"/>
<text x="294.80" y="329.60" font-size="5.3" text-anchor="start" font-weight="bold">BMT</text>
<text x="294.80" y="337.15" font-size="5.3" text-anchor="start" font-weight="bold">BMT + imiquimod</text>
<text x="303.80" y="383.20" font-size="6.4" text-anchor="middle" font-weight="bold"><tspan font-style="italic">P</tspan> &lt;.005</text>
<path d="M296.00,392.50 L296.00,388.00 L313.40,388.00 L313.40,392.50" fill="none" stroke="#000" stroke-width="1.0"/>
<text x="353.40" y="312.20" font-size="6.4" text-anchor="middle" font-weight="bold"><tspan font-style="italic">P</tspan> &lt;.005</text>
<path d="M344.80,320.60 L344.80,316.50 L364.20,316.50 L364.20,320.60" fill="none" stroke="#000" stroke-width="1.0"/>
<text x="267.56" y="368.00" font-size="6.0" text-anchor="middle" font-weight="bold" textLength="56" lengthAdjust="spacingAndGlyphs" transform="rotate(-90 267.56 368.0)">Total IKDC/x10<tspan font-size="0.62em" dy="-0.45em">5</tspan></text>
<text x="304.20" y="427.40" font-size="5.9" text-anchor="middle" font-weight="normal">Host</text>
<text x="353.80" y="427.40" font-size="5.9" text-anchor="middle" font-weight="normal">Donor</text>
<text x="390.40" y="320.80" font-size="16" text-anchor="start" font-weight="bold">H</text>
<line x1="419.00" y1="320.60" x2="419.00" y2="420.70" stroke="#000" stroke-width="1.2"/>
<line x1="418.40" y1="420.10" x2="518.50" y2="420.10" stroke="#000" stroke-width="1.2"/>
<line x1="416.80" y1="420.30" x2="419.00" y2="420.30" stroke="#000" stroke-width="1.0"/>
<text x="416.40" y="422.00" font-size="4.8" text-anchor="end" font-weight="bold">0</text>
<line x1="416.80" y1="400.40" x2="419.00" y2="400.40" stroke="#000" stroke-width="1.0"/>
<text x="416.40" y="402.10" font-size="4.8" text-anchor="end" font-weight="bold">1</text>
<line x1="416.80" y1="380.50" x2="419.00" y2="380.50" stroke="#000" stroke-width="1.0"/>
<text x="416.40" y="382.20" font-size="4.8" text-anchor="end" font-weight="bold">2</text>
<line x1="416.80" y1="360.60" x2="419.00" y2="360.60" stroke="#000" stroke-width="1.0"/>
<text x="416.40" y="362.30" font-size="4.8" text-anchor="end" font-weight="bold">3</text>
<line x1="416.80" y1="340.70" x2="419.00" y2="340.70" stroke="#000" stroke-width="1.0"/>
<text x="416.40" y="342.40" font-size="4.8" text-anchor="end" font-weight="bold">4</text>
<line x1="416.80" y1="320.80" x2="419.00" y2="320.80" stroke="#000" stroke-width="1.0"/>
<text x="416.40" y="322.50" font-size="4.8" text-anchor="end" font-weight="bold">5</text>
<rect x="428.80" y="417.80" width="11.70" height="2.30" fill="#fff" stroke="#000" stroke-width="1.0"/>
<rect x="447.50" y="416.00" width="11.80" height="4.10" fill="#000" stroke="#000" stroke-width="1.0"/>
<line x1="484.10" y1="359.00" x2="484.10" y2="348.50" stroke="#000" stroke-width="1.0"/>
<line x1="480.90" y1="348.50" x2="487.30" y2="348.50" stroke="#000" stroke-width="1.0"/>
<rect x="478.30" y="359.00" width="11.60" height="61.10" fill="#fff" stroke="#000" stroke-width="1.0"/>
<line x1="503.40" y1="332.30" x2="503.40" y2="324.60" stroke="#000" stroke-width="1.0"/>
<line x1="500.20" y1="324.60" x2="506.60" y2="324.60" stroke="#000" stroke-width="1.0"/>
<rect x="497.50" y="332.30" width="11.80" height="87.80" fill="#000" stroke="#000" stroke-width="1.0"/>
<line x1="442.80" y1="420.10" x2="442.80" y2="421.90" stroke="#000" stroke-width="0.9"/>
<line x1="493.80" y1="420.10" x2="493.80" y2="421.90" stroke="#000" stroke-width="0.9"/>
<rect x="423.20" y="324.70" width="8.80" height="3.80" fill="#fff" stroke="#000" stroke-width="1.0"/>
<rect x="422.70" y="332.40" width="9.80" height="4.20" fill="#000" stroke="none" stroke-width="1"/>
<text x="433.50" y="328.60" font-size="5.3" text-anchor="start" font-weight="bold">BMT</text>
<text x="433.50" y="336.50" font-size="5.3" text-anchor="start" font-weight="bold">BMT + imiquimod</text>
<text x="444.10" y="404.90" font-size="6.4" text-anchor="middle" font-weight="bold"><tspan font-style="italic">P</tspan> &lt; .02</text>
<path d="M435.60,414.00 L435.60,409.80 L454.40,409.80 L454.40,414.00" fill="none" stroke="#000" stroke-width="1.0"/>
<text x="494.20" y="314.80" font-size="6.4" text-anchor="middle" font-weight="bold"><tspan font-style="italic">P</tspan> =NS</text>
<path d="M485.30,324.00 L485.30,319.50 L503.80,319.50 L503.80,324.00" fill="none" stroke="#000" stroke-width="1.0"/>
<text x="410.83" y="364.80" font-size="6.2" text-anchor="middle" font-weight="bold" textLength="62.3" lengthAdjust="spacingAndGlyphs" transform="rotate(-90 410.83200000000005 364.8)">Total B cells/x10<tspan font-size="0.62em" dy="-0.45em">5</tspan></text>
<text x="442.80" y="427.30" font-size="5.9" text-anchor="middle" font-weight="normal">Host</text>
<text x="493.80" y="427.30" font-size="5.9" text-anchor="middle" font-weight="normal">Donor</text>
<text x="0.00" y="176.60" font-size="16.4" text-anchor="start" font-weight="bold">D</text>
<text x="63.70" y="182.50" font-size="11.2" text-anchor="middle" font-weight="bold">Donor</text>
<text x="180.00" y="182.50" font-size="11.3" text-anchor="middle" font-weight="bold">Host</text>
<line x1="9.40" y1="186.10" x2="9.40" y2="322.90" stroke="#000" stroke-width="2.4"/>
<text x="11.60" y="365.30" font-size="8.8" text-anchor="middle" font-weight="bold" textLength="78.3" lengthAdjust="spacingAndGlyphs" transform="rotate(-90 11.6 365.3)">CD11c distribution</text>
<text x="14.80" y="302.80" font-size="9.2" text-anchor="start" font-weight="bold">CD86</text>
<line x1="41.30" y1="300.40" x2="231.30" y2="300.40" stroke="#000" stroke-width="2.3"/>
<text x="15.20" y="424.00" font-size="9.2" text-anchor="start" font-weight="bold">CD40</text>
<line x1="41.30" y1="421.30" x2="231.30" y2="421.30" stroke="#000" stroke-width="2.3"/>
<path d="M16.20,284.00 C17.87,283.47 23.53,283.57 26.20,280.80 C28.87,278.03 30.38,274.48 32.20,267.40 C34.02,260.32 35.88,247.20 37.10,238.30 C38.32,229.40 38.77,219.47 39.50,214.00 C40.23,208.53 40.88,205.92 41.50,205.50 C42.12,205.08 42.52,206.85 43.20,211.50 C43.88,216.15 44.80,227.32 45.60,233.40 C46.40,239.48 46.98,244.55 48.00,248.00 C49.02,251.45 50.48,252.07 51.70,254.10 C52.92,256.13 54.08,257.77 55.30,260.20 C56.52,262.63 57.78,265.67 59.00,268.70 C60.22,271.73 61.38,275.98 62.60,278.40 C63.82,280.82 64.23,282.25 66.30,283.20 C68.37,284.15 66.88,283.95 75.00,284.10 C83.12,284.25 108.33,284.10 115.00,284.10 L115.00,284.40 L16.20,284.40 Z" fill="#d2d2d2" stroke="none" stroke-width="1"/>
<path d="M16.20,284.00 C17.87,283.47 23.53,283.57 26.20,280.80 C28.87,278.03 30.38,274.48 32.20,267.40 C34.02,260.32 35.88,247.20 37.10,238.30 C38.32,229.40 38.77,219.47 39.50,214.00 C40.23,208.53 40.88,205.92 41.50,205.50 C42.12,205.08 42.52,206.85 43.20,211.50 C43.88,216.15 44.80,227.32 45.60,233.40 C46.40,239.48 46.98,244.55 48.00,248.00 C49.02,251.45 50.48,252.07 51.70,254.10 C52.92,256.13 54.08,257.77 55.30,260.20 C56.52,262.63 57.78,265.67 59.00,268.70 C60.22,271.73 61.38,275.98 62.60,278.40 C63.82,280.82 64.23,282.25 66.30,283.20 C68.37,284.15 66.88,283.95 75.00,284.10 C83.12,284.25 108.33,284.10 115.00,284.10" fill="none" stroke="#222" stroke-width="0.9"/>
<path d="M16.20,284.10 C17.87,283.95 23.33,284.15 26.20,283.20 C29.07,282.25 31.38,281.43 33.40,278.40 C35.42,275.37 36.87,270.07 38.30,265.00 C39.73,259.93 40.98,251.65 42.00,248.00 C43.02,244.35 43.40,244.52 44.40,243.10 C45.40,241.68 46.78,240.92 48.00,239.50 C49.22,238.08 50.48,236.42 51.70,234.60 C52.92,232.78 54.37,229.82 55.30,228.60 C56.23,227.38 56.68,226.90 57.30,227.30 C57.92,227.70 58.32,227.95 59.00,231.00 C59.68,234.05 60.60,240.33 61.40,245.60 C62.20,250.87 62.78,257.73 63.80,262.60 C64.82,267.47 66.08,271.77 67.50,274.80 C68.92,277.83 70.28,279.37 72.30,280.80 C74.32,282.23 72.48,282.85 79.60,283.40 C86.72,283.95 109.10,283.98 115.00,284.10" fill="none" stroke="#000" stroke-width="0.95"/>
<path d="M16.40,275.80 C17.62,274.40 21.47,272.43 23.70,267.40 C25.93,262.37 28.18,253.28 29.80,245.60 C31.42,237.92 32.38,228.60 33.40,221.30 C34.42,214.00 34.97,206.47 35.90,201.80 C36.83,197.13 37.98,192.90 39.00,193.30 C40.02,193.70 41.10,197.52 42.00,204.20 C42.90,210.88 43.60,224.48 44.40,233.40 C45.20,242.32 45.78,250.80 46.80,257.70 C47.82,264.60 48.88,270.75 50.50,274.80 C52.12,278.85 54.58,280.50 56.50,282.00 C58.42,283.50 61.08,283.50 62.00,283.80" fill="none" stroke="#000" stroke-width="1.6" stroke-dasharray="0.1 2.3" stroke-linecap="round"/>
<rect x="16.60" y="186.20" width="98.60" height="98.20" fill="none" stroke="#999" stroke-width="1.3"/>
<line x1="16.60" y1="284.40" x2="115.20" y2="284.40" stroke="#333" stroke-width="1.0"/>
<line x1="17.40" y1="284.40" x2="17.40" y2="285.80" stroke="#444" stroke-width="0.6"/>
<line x1="24.68" y1="284.40" x2="24.68" y2="285.20" stroke="#444" stroke-width="0.6"/>
<line x1="28.95" y1="284.40" x2="28.95" y2="285.20" stroke="#444" stroke-width="0.6"/>
<line x1="31.97" y1="284.40" x2="31.97" y2="285.20" stroke="#444" stroke-width="0.6"/>
<line x1="34.32" y1="284.40" x2="34.32" y2="285.20" stroke="#444" stroke-width="0.6"/>
<line x1="36.23" y1="284.40" x2="36.23" y2="285.20" stroke="#444" stroke-width="0.6"/>
<line x1="37.85" y1="284.40" x2="37.85" y2="285.20" stroke="#444" stroke-width="0.6"/>
<line x1="39.25" y1="284.40" x2="39.25" y2="285.20" stroke="#444" stroke-width="0.6"/>
<line x1="40.49" y1="284.40" x2="40.49" y2="285.20" stroke="#444" stroke-width="0.6"/>
<line x1="41.60" y1="284.40" x2="41.60" y2="285.80" stroke="#444" stroke-width="0.6"/>
<line x1="48.88" y1="284.40" x2="48.88" y2="285.20" stroke="#444" stroke-width="0.6"/>
<line x1="53.15" y1="284.40" x2="53.15" y2="285.20" stroke="#444" stroke-width="0.6"/>
<line x1="56.17" y1="284.40" x2="56.17" y2="285.20" stroke="#444" stroke-width="0.6"/>
<line x1="58.52" y1="284.40" x2="58.52" y2="285.20" stroke="#444" stroke-width="0.6"/>
<line x1="60.43" y1="284.40" x2="60.43" y2="285.20" stroke="#444" stroke-width="0.6"/>
<line x1="62.05" y1="284.40" x2="62.05" y2="285.20" stroke="#444" stroke-width="0.6"/>
<line x1="63.45" y1="284.40" x2="63.45" y2="285.20" stroke="#444" stroke-width="0.6"/>
<line x1="64.69" y1="284.40" x2="64.69" y2="285.20" stroke="#444" stroke-width="0.6"/>
<line x1="65.80" y1="284.40" x2="65.80" y2="285.80" stroke="#444" stroke-width="0.6"/>
<line x1="73.08" y1="284.40" x2="73.08" y2="285.20" stroke="#444" stroke-width="0.6"/>
<line x1="77.35" y1="284.40" x2="77.35" y2="285.20" stroke="#444" stroke-width="0.6"/>
<line x1="80.37" y1="284.40" x2="80.37" y2="285.20" stroke="#444" stroke-width="0.6"/>
<line x1="82.72" y1="284.40" x2="82.72" y2="285.20" stroke="#444" stroke-width="0.6"/>
<line x1="84.63" y1="284.40" x2="84.63" y2="285.20" stroke="#444" stroke-width="0.6"/>
<line x1="86.25" y1="284.40" x2="86.25" y2="285.20" stroke="#444" stroke-width="0.6"/>
<line x1="87.65" y1="284.40" x2="87.65" y2="285.20" stroke="#444" stroke-width="0.6"/>
<line x1="88.89" y1="284.40" x2="88.89" y2="285.20" stroke="#444" stroke-width="0.6"/>
<line x1="90.00" y1="284.40" x2="90.00" y2="285.80" stroke="#444" stroke-width="0.6"/>
<line x1="97.28" y1="284.40" x2="97.28" y2="285.20" stroke="#444" stroke-width="0.6"/>
<line x1="101.55" y1="284.40" x2="101.55" y2="285.20" stroke="#444" stroke-width="0.6"/>
<line x1="104.57" y1="284.40" x2="104.57" y2="285.20" stroke="#444" stroke-width="0.6"/>
<line x1="106.92" y1="284.40" x2="106.92" y2="285.20" stroke="#444" stroke-width="0.6"/>
<line x1="108.83" y1="284.40" x2="108.83" y2="285.20" stroke="#444" stroke-width="0.6"/>
<line x1="110.45" y1="284.40" x2="110.45" y2="285.20" stroke="#444" stroke-width="0.6"/>
<line x1="111.85" y1="284.40" x2="111.85" y2="285.20" stroke="#444" stroke-width="0.6"/>
<line x1="113.09" y1="284.40" x2="113.09" y2="285.20" stroke="#444" stroke-width="0.6"/>
<text x="17.40" y="293.60" font-size="6.3" text-anchor="middle" font-weight="normal">1</text>
<text x="41.60" y="293.60" font-size="6.3" text-anchor="middle" font-weight="normal">10</text>
<text x="66.00" y="293.60" font-size="6.3" text-anchor="middle" font-weight="normal">100</text>
<text x="90.80" y="293.60" font-size="6.3" text-anchor="middle" font-weight="normal">1000</text>
<path d="M132.40,284.10 C134.43,284.05 141.77,285.77 144.60,283.80 C147.43,281.83 147.78,276.65 149.40,272.30 C151.02,267.95 152.87,261.15 154.30,257.70 C155.73,254.25 156.98,254.03 158.00,251.60 C159.02,249.17 159.40,244.10 160.40,243.10 C161.40,242.10 162.78,245.38 164.00,245.60 C165.22,245.82 166.48,245.62 167.70,244.40 C168.92,243.18 170.17,240.53 171.30,238.30 C172.43,236.07 173.48,231.20 174.50,231.00 C175.52,230.80 176.52,234.67 177.40,237.10 C178.28,239.53 178.98,240.95 179.80,245.60 C180.62,250.25 181.28,259.73 182.30,265.00 C183.32,270.27 184.48,274.17 185.90,277.20 C187.32,280.23 188.45,282.05 190.80,283.20 C193.15,284.35 193.30,283.95 200.00,284.10 C206.70,284.25 225.83,284.10 231.00,284.10 L231.00,284.40 L132.40,284.40 Z" fill="#d2d2d2" stroke="none" stroke-width="1"/>
<path d="M132.40,284.10 C134.43,284.05 141.77,285.77 144.60,283.80 C147.43,281.83 147.78,276.65 149.40,272.30 C151.02,267.95 152.87,261.15 154.30,257.70 C155.73,254.25 156.98,254.03 158.00,251.60 C159.02,249.17 159.40,244.10 160.40,243.10 C161.40,242.10 162.78,245.38 164.00,245.60 C165.22,245.82 166.48,245.62 167.70,244.40 C168.92,243.18 170.17,240.53 171.30,238.30 C172.43,236.07 173.48,231.20 174.50,231.00 C175.52,230.80 176.52,234.67 177.40,237.10 C178.28,239.53 178.98,240.95 179.80,245.60 C180.62,250.25 181.28,259.73 182.30,265.00 C183.32,270.27 184.48,274.17 185.90,277.20 C187.32,280.23 188.45,282.05 190.80,283.20 C193.15,284.35 193.30,283.95 200.00,284.10 C206.70,284.25 225.83,284.10 231.00,284.10" fill="none" stroke="#222" stroke-width="0.9"/>
<path d="M132.40,284.10 C134.43,284.05 140.95,284.95 144.60,283.80 C148.25,282.65 151.67,279.53 154.30,277.20 C156.93,274.87 158.78,272.23 160.40,269.80 C162.02,267.37 162.78,267.05 164.00,262.60 C165.22,258.15 166.68,249.98 167.70,243.10 C168.72,236.22 169.42,227.78 170.10,221.30 C170.78,214.82 171.18,208.25 171.80,204.20 C172.42,200.15 173.07,197.40 173.80,197.00 C174.53,196.60 175.40,198.57 176.20,201.80 C177.00,205.03 177.80,209.52 178.60,216.40 C179.40,223.28 179.98,234.60 181.00,243.10 C182.02,251.60 183.27,261.12 184.70,267.40 C186.13,273.68 187.58,278.13 189.60,280.80 C191.62,283.47 189.90,282.85 196.80,283.40 C203.70,283.95 225.30,283.98 231.00,284.10" fill="none" stroke="#000" stroke-width="0.95"/>
<path d="M132.40,276.00 C133.22,274.97 135.47,274.07 137.30,269.80 C139.13,265.53 141.58,258.48 143.40,250.40 C145.22,242.32 146.78,229.00 148.20,221.30 C149.62,213.60 150.68,208.75 151.90,204.20 C153.12,199.65 154.48,193.58 155.50,194.00 C156.52,194.42 157.18,200.13 158.00,206.70 C158.82,213.27 159.60,224.90 160.40,233.40 C161.20,241.90 161.78,250.80 162.80,257.70 C163.82,264.60 164.88,270.75 166.50,274.80 C168.12,278.85 170.58,280.50 172.50,282.00 C174.42,283.50 177.08,283.50 178.00,283.80" fill="none" stroke="#000" stroke-width="1.6" stroke-dasharray="0.1 2.3" stroke-linecap="round"/>
<rect x="132.60" y="186.20" width="98.60" height="98.20" fill="none" stroke="#999" stroke-width="1.3"/>
<line x1="132.60" y1="284.40" x2="231.20" y2="284.40" stroke="#333" stroke-width="1.0"/>
<line x1="133.40" y1="284.40" x2="133.40" y2="285.80" stroke="#444" stroke-width="0.6"/>
<line x1="140.87" y1="284.40" x2="140.87" y2="285.20" stroke="#444" stroke-width="0.6"/>
<line x1="145.23" y1="284.40" x2="145.23" y2="285.20" stroke="#444" stroke-width="0.6"/>
<line x1="148.33" y1="284.40" x2="148.33" y2="285.20" stroke="#444" stroke-width="0.6"/>
<line x1="150.73" y1="284.40" x2="150.73" y2="285.20" stroke="#444" stroke-width="0.6"/>
<line x1="152.70" y1="284.40" x2="152.70" y2="285.20" stroke="#444" stroke-width="0.6"/>
<line x1="154.36" y1="284.40" x2="154.36" y2="285.20" stroke="#444" stroke-width="0.6"/>
<line x1="155.80" y1="284.40" x2="155.80" y2="285.20" stroke="#444" stroke-width="0.6"/>
<line x1="157.07" y1="284.40" x2="157.07" y2="285.20" stroke="#444" stroke-width="0.6"/>
<line x1="158.20" y1="284.40" x2="158.20" y2="285.80" stroke="#444" stroke-width="0.6"/>
<line x1="165.67" y1="284.40" x2="165.67" y2="285.20" stroke="#444" stroke-width="0.6"/>
<line x1="170.03" y1="284.40" x2="170.03" y2="285.20" stroke="#444" stroke-width="0.6"/>
<line x1="173.13" y1="284.40" x2="173.13" y2="285.20" stroke="#444" stroke-width="0.6"/>
<line x1="175.53" y1="284.40" x2="175.53" y2="285.20" stroke="#444" stroke-width="0.6"/>
<line x1="177.50" y1="284.40" x2="177.50" y2="285.20" stroke="#444" stroke-width="0.6"/>
<line x1="179.16" y1="284.40" x2="179.16" y2="285.20" stroke="#444" stroke-width="0.6"/>
<line x1="180.60" y1="284.40" x2="180.60" y2="285.20" stroke="#444" stroke-width="0.6"/>
<line x1="181.87" y1="284.40" x2="181.87" y2="285.20" stroke="#444" stroke-width="0.6"/>
<line x1="183.00" y1="284.40" x2="183.00" y2="285.80" stroke="#444" stroke-width="0.6"/>
<line x1="190.47" y1="284.40" x2="190.47" y2="285.20" stroke="#444" stroke-width="0.6"/>
<line x1="194.83" y1="284.40" x2="194.83" y2="285.20" stroke="#444" stroke-width="0.6"/>
<line x1="197.93" y1="284.40" x2="197.93" y2="285.20" stroke="#444" stroke-width="0.6"/>
<line x1="200.33" y1="284.40" x2="200.33" y2="285.20" stroke="#444" stroke-width="0.6"/>
<line x1="202.30" y1="284.40" x2="202.30" y2="285.20" stroke="#444" stroke-width="0.6"/>
<line x1="203.96" y1="284.40" x2="203.96" y2="285.20" stroke="#444" stroke-width="0.6"/>
<line x1="205.40" y1="284.40" x2="205.40" y2="285.20" stroke="#444" stroke-width="0.6"/>
<line x1="206.67" y1="284.40" x2="206.67" y2="285.20" stroke="#444" stroke-width="0.6"/>
<line x1="207.80" y1="284.40" x2="207.80" y2="285.80" stroke="#444" stroke-width="0.6"/>
<line x1="215.27" y1="284.40" x2="215.27" y2="285.20" stroke="#444" stroke-width="0.6"/>
<line x1="219.63" y1="284.40" x2="219.63" y2="285.20" stroke="#444" stroke-width="0.6"/>
<line x1="222.73" y1="284.40" x2="222.73" y2="285.20" stroke="#444" stroke-width="0.6"/>
<line x1="225.13" y1="284.40" x2="225.13" y2="285.20" stroke="#444" stroke-width="0.6"/>
<line x1="227.10" y1="284.40" x2="227.10" y2="285.20" stroke="#444" stroke-width="0.6"/>
<line x1="228.76" y1="284.40" x2="228.76" y2="285.20" stroke="#444" stroke-width="0.6"/>
<line x1="230.20" y1="284.40" x2="230.20" y2="285.20" stroke="#444" stroke-width="0.6"/>
<text x="133.40" y="293.60" font-size="6.3" text-anchor="middle" font-weight="normal">1</text>
<text x="158.20" y="293.60" font-size="6.3" text-anchor="middle" font-weight="normal">10</text>
<text x="183.00" y="293.60" font-size="6.3" text-anchor="middle" font-weight="normal">100</text>
<text x="206.90" y="293.60" font-size="6.3" text-anchor="middle" font-weight="normal">1000</text>
<path d="M16.40,405.00 C17.62,404.60 21.67,403.80 23.70,402.60 C25.73,401.40 27.18,400.43 28.60,397.80 C30.02,395.17 31.18,391.47 32.20,386.80 C33.22,382.13 33.88,375.47 34.70,369.80 C35.52,364.13 36.10,357.05 37.10,352.80 C38.10,348.55 39.68,343.50 40.70,344.30 C41.72,345.10 42.38,352.13 43.20,357.60 C44.02,363.07 44.80,371.62 45.60,377.10 C46.40,382.58 47.27,387.87 48.00,390.50 C48.73,393.13 49.27,393.92 50.00,392.90 C50.73,391.88 51.60,387.23 52.40,384.40 C53.20,381.57 53.98,378.02 54.80,375.90 C55.62,373.78 56.48,371.70 57.30,371.70 C58.12,371.70 58.90,372.98 59.70,375.90 C60.50,378.82 61.22,385.15 62.10,389.20 C62.98,393.25 63.70,397.57 65.00,400.20 C66.30,402.83 67.40,404.05 69.90,405.00 C72.40,405.95 72.48,405.75 80.00,405.90 C87.52,406.05 109.17,405.90 115.00,405.90 L115.00,406.30 L16.40,406.30 Z" fill="#d2d2d2" stroke="none" stroke-width="1"/>
<path d="M16.40,405.00 C17.62,404.60 21.67,403.80 23.70,402.60 C25.73,401.40 27.18,400.43 28.60,397.80 C30.02,395.17 31.18,391.47 32.20,386.80 C33.22,382.13 33.88,375.47 34.70,369.80 C35.52,364.13 36.10,357.05 37.10,352.80 C38.10,348.55 39.68,343.50 40.70,344.30 C41.72,345.10 42.38,352.13 43.20,357.60 C44.02,363.07 44.80,371.62 45.60,377.10 C46.40,382.58 47.27,387.87 48.00,390.50 C48.73,393.13 49.27,393.92 50.00,392.90 C50.73,391.88 51.60,387.23 52.40,384.40 C53.20,381.57 53.98,378.02 54.80,375.90 C55.62,373.78 56.48,371.70 57.30,371.70 C58.12,371.70 58.90,372.98 59.70,375.90 C60.50,378.82 61.22,385.15 62.10,389.20 C62.98,393.25 63.70,397.57 65.00,400.20 C66.30,402.83 67.40,404.05 69.90,405.00 C72.40,405.95 72.48,405.75 80.00,405.90 C87.52,406.05 109.17,405.90 115.00,405.90" fill="none" stroke="#222" stroke-width="0.9"/>
<path d="M16.40,405.00 C17.62,404.20 21.67,401.62 23.70,400.20 C25.73,398.78 27.18,397.60 28.60,396.50 C30.02,395.40 31.07,394.32 32.20,393.60 C33.33,392.88 34.38,392.12 35.40,392.20 C36.42,392.28 37.33,393.30 38.30,394.10 C39.27,394.90 40.30,396.27 41.20,397.00 C42.10,397.73 42.77,398.78 43.70,398.50 C44.63,398.22 45.88,397.65 46.80,395.30 C47.72,392.95 48.38,389.47 49.20,384.40 C50.02,379.33 50.88,372.20 51.70,364.90 C52.52,357.60 53.30,347.88 54.10,340.60 C54.90,333.32 55.82,325.33 56.50,321.20 C57.18,317.07 57.58,315.00 58.20,315.80 C58.82,316.60 59.47,320.65 60.20,326.00 C60.93,331.35 61.80,339.80 62.60,347.90 C63.40,356.00 64.10,366.90 65.00,374.60 C65.90,382.30 66.78,389.43 68.00,394.10 C69.22,398.77 70.37,400.78 72.30,402.60 C74.23,404.42 72.48,404.45 79.60,405.00 C86.72,405.55 109.10,405.75 115.00,405.90" fill="none" stroke="#000" stroke-width="0.95"/>
<path d="M16.40,397.80 C17.22,397.38 19.67,397.13 21.30,395.30 C22.93,393.47 24.78,391.05 26.20,386.80 C27.62,382.55 28.60,376.28 29.80,369.80 C31.00,363.32 32.18,354.58 33.40,347.90 C34.62,341.22 36.08,333.83 37.10,329.70 C38.12,325.57 38.68,322.50 39.50,323.10 C40.32,323.70 41.18,327.95 42.00,333.30 C42.82,338.65 43.60,347.50 44.40,355.20 C45.20,362.90 45.78,372.62 46.80,379.50 C47.82,386.38 48.88,392.45 50.50,396.50 C52.12,400.55 54.58,402.28 56.50,403.80 C58.42,405.32 61.08,405.30 62.00,405.60" fill="none" stroke="#000" stroke-width="1.6" stroke-dasharray="0.1 2.3" stroke-linecap="round"/>
<rect x="16.60" y="307.60" width="98.60" height="98.70" fill="none" stroke="#999" stroke-width="1.3"/>
<line x1="16.60" y1="406.30" x2="115.20" y2="406.30" stroke="#333" stroke-width="1.0"/>
<line x1="16.90" y1="406.30" x2="16.90" y2="407.70" stroke="#444" stroke-width="0.6"/>
<line x1="24.46" y1="406.30" x2="24.46" y2="407.10" stroke="#444" stroke-width="0.6"/>
<line x1="28.88" y1="406.30" x2="28.88" y2="407.10" stroke="#444" stroke-width="0.6"/>
<line x1="32.01" y1="406.30" x2="32.01" y2="407.10" stroke="#444" stroke-width="0.6"/>
<line x1="34.44" y1="406.30" x2="34.44" y2="407.10" stroke="#444" stroke-width="0.6"/>
<line x1="36.43" y1="406.30" x2="36.43" y2="407.10" stroke="#444" stroke-width="0.6"/>
<line x1="38.11" y1="406.30" x2="38.11" y2="407.10" stroke="#444" stroke-width="0.6"/>
<line x1="39.57" y1="406.30" x2="39.57" y2="407.10" stroke="#444" stroke-width="0.6"/>
<line x1="40.85" y1="406.30" x2="40.85" y2="407.10" stroke="#444" stroke-width="0.6"/>
<line x1="42.00" y1="406.30" x2="42.00" y2="407.70" stroke="#444" stroke-width="0.6"/>
<line x1="49.56" y1="406.30" x2="49.56" y2="407.10" stroke="#444" stroke-width="0.6"/>
<line x1="53.98" y1="406.30" x2="53.98" y2="407.10" stroke="#444" stroke-width="0.6"/>
<line x1="57.11" y1="406.30" x2="57.11" y2="407.10" stroke="#444" stroke-width="0.6"/>
<line x1="59.54" y1="406.30" x2="59.54" y2="407.10" stroke="#444" stroke-width="0.6"/>
<line x1="61.53" y1="406.30" x2="61.53" y2="407.10" stroke="#444" stroke-width="0.6"/>
<line x1="63.21" y1="406.30" x2="63.21" y2="407.10" stroke="#444" stroke-width="0.6"/>
<line x1="64.67" y1="406.30" x2="64.67" y2="407.10" stroke="#444" stroke-width="0.6"/>
<line x1="65.95" y1="406.30" x2="65.95" y2="407.10" stroke="#444" stroke-width="0.6"/>
<line x1="67.10" y1="406.30" x2="67.10" y2="407.70" stroke="#444" stroke-width="0.6"/>
<line x1="74.66" y1="406.30" x2="74.66" y2="407.10" stroke="#444" stroke-width="0.6"/>
<line x1="79.08" y1="406.30" x2="79.08" y2="407.10" stroke="#444" stroke-width="0.6"/>
<line x1="82.21" y1="406.30" x2="82.21" y2="407.10" stroke="#444" stroke-width="0.6"/>
<line x1="84.64" y1="406.30" x2="84.64" y2="407.10" stroke="#444" stroke-width="0.6"/>
<line x1="86.63" y1="406.30" x2="86.63" y2="407.10" stroke="#444" stroke-width="0.6"/>
<line x1="88.31" y1="406.30" x2="88.31" y2="407.10" stroke="#444" stroke-width="0.6"/>
<line x1="89.77" y1="406.30" x2="89.77" y2="407.10" stroke="#444" stroke-width="0.6"/>
<line x1="91.05" y1="406.30" x2="91.05" y2="407.10" stroke="#444" stroke-width="0.6"/>
<line x1="92.20" y1="406.30" x2="92.20" y2="407.70" stroke="#444" stroke-width="0.6"/>
<line x1="99.76" y1="406.30" x2="99.76" y2="407.10" stroke="#444" stroke-width="0.6"/>
<line x1="104.18" y1="406.30" x2="104.18" y2="407.10" stroke="#444" stroke-width="0.6"/>
<line x1="107.31" y1="406.30" x2="107.31" y2="407.10" stroke="#444" stroke-width="0.6"/>
<line x1="109.74" y1="406.30" x2="109.74" y2="407.10" stroke="#444" stroke-width="0.6"/>
<line x1="111.73" y1="406.30" x2="111.73" y2="407.10" stroke="#444" stroke-width="0.6"/>
<line x1="113.41" y1="406.30" x2="113.41" y2="407.10" stroke="#444" stroke-width="0.6"/>
<line x1="114.87" y1="406.30" x2="114.87" y2="407.10" stroke="#444" stroke-width="0.6"/>
<text x="16.90" y="415.80" font-size="6.3" text-anchor="middle" font-weight="normal">1</text>
<text x="42.00" y="415.80" font-size="6.3" text-anchor="middle" font-weight="normal">10</text>
<text x="67.10" y="415.80" font-size="6.3" text-anchor="middle" font-weight="normal">100</text>
<text x="91.00" y="415.80" font-size="6.3" text-anchor="middle" font-weight="normal">1000</text>
<path d="M132.40,405.60 C133.62,405.10 137.67,404.93 139.70,402.60 C141.73,400.27 143.18,396.27 144.60,391.60 C146.02,386.93 147.07,378.83 148.20,374.60 C149.33,370.37 150.38,368.42 151.40,366.20 C152.42,363.98 153.42,362.80 154.30,361.30 C155.18,359.80 155.88,356.60 156.70,357.20 C157.52,357.80 158.30,362.00 159.20,364.90 C160.10,367.80 161.10,372.17 162.10,374.60 C163.10,377.03 164.27,379.28 165.20,379.50 C166.13,379.72 166.88,378.33 167.70,375.90 C168.52,373.47 169.30,368.75 170.10,364.90 C170.90,361.05 171.68,355.83 172.50,352.80 C173.32,349.77 174.27,346.70 175.00,346.70 C175.73,346.70 176.30,348.95 176.90,352.80 C177.50,356.65 177.92,363.73 178.60,369.80 C179.28,375.87 179.98,383.93 181.00,389.20 C182.02,394.47 183.07,398.77 184.70,401.40 C186.33,404.03 188.25,404.25 190.80,405.00 C193.35,405.75 193.30,405.75 200.00,405.90 C206.70,406.05 225.83,405.90 231.00,405.90 L231.00,406.30 L132.40,406.30 Z" fill="#d2d2d2" stroke="none" stroke-width="1"/>
<path d="M132.40,405.60 C133.62,405.10 137.67,404.93 139.70,402.60 C141.73,400.27 143.18,396.27 144.60,391.60 C146.02,386.93 147.07,378.83 148.20,374.60 C149.33,370.37 150.38,368.42 151.40,366.20 C152.42,363.98 153.42,362.80 154.30,361.30 C155.18,359.80 155.88,356.60 156.70,357.20 C157.52,357.80 158.30,362.00 159.20,364.90 C160.10,367.80 161.10,372.17 162.10,374.60 C163.10,377.03 164.27,379.28 165.20,379.50 C166.13,379.72 166.88,378.33 167.70,375.90 C168.52,373.47 169.30,368.75 170.10,364.90 C170.90,361.05 171.68,355.83 172.50,352.80 C173.32,349.77 174.27,346.70 175.00,346.70 C175.73,346.70 176.30,348.95 176.90,352.80 C177.50,356.65 177.92,363.73 178.60,369.80 C179.28,375.87 179.98,383.93 181.00,389.20 C182.02,394.47 183.07,398.77 184.70,401.40 C186.33,404.03 188.25,404.25 190.80,405.00 C193.35,405.75 193.30,405.75 200.00,405.90 C206.70,406.05 225.83,405.90 231.00,405.90" fill="none" stroke="#222" stroke-width="0.9"/>
<path d="M132.40,405.60 C133.82,405.30 138.67,405.32 140.90,403.80 C143.13,402.28 144.38,398.93 145.80,396.50 C147.22,394.07 148.18,391.42 149.40,389.20 C150.62,386.98 151.95,384.48 153.10,383.20 C154.25,381.92 155.28,381.10 156.30,381.50 C157.32,381.90 158.12,383.90 159.20,385.60 C160.28,387.30 161.58,390.88 162.80,391.70 C164.02,392.52 165.48,392.53 166.50,390.50 C167.52,388.47 168.10,385.38 168.90,379.50 C169.70,373.62 170.48,363.30 171.30,355.20 C172.12,347.10 173.07,336.97 173.80,330.90 C174.53,324.83 175.10,321.32 175.70,318.80 C176.30,316.28 176.80,315.00 177.40,315.80 C178.00,316.60 178.62,318.25 179.30,323.60 C179.98,328.95 180.72,338.98 181.50,347.90 C182.28,356.82 183.07,369.00 184.00,377.10 C184.93,385.20 185.77,392.05 187.10,396.50 C188.43,400.95 189.97,402.38 192.00,403.80 C194.03,405.22 192.80,404.65 199.30,405.00 C205.80,405.35 225.72,405.75 231.00,405.90" fill="none" stroke="#000" stroke-width="0.95"/>
<path d="M132.40,399.00 C133.22,398.18 135.67,396.53 137.30,394.10 C138.93,391.67 140.78,388.85 142.20,384.40 C143.62,379.95 144.60,373.48 145.80,367.40 C147.00,361.32 148.18,353.78 149.40,347.90 C150.62,342.02 151.95,335.75 153.10,332.10 C154.25,328.45 155.37,325.80 156.30,326.00 C157.23,326.20 157.90,328.43 158.70,333.30 C159.50,338.17 160.22,347.50 161.10,355.20 C161.98,362.90 162.70,372.62 164.00,379.50 C165.30,386.38 166.87,392.45 168.90,396.50 C170.93,400.55 174.02,402.28 176.20,403.80 C178.38,405.32 181.03,405.30 182.00,405.60" fill="none" stroke="#000" stroke-width="1.6" stroke-dasharray="0.1 2.3" stroke-linecap="round"/>
<rect x="132.60" y="308.00" width="98.70" height="98.30" fill="none" stroke="#999" stroke-width="1.3"/>
<line x1="132.60" y1="406.30" x2="231.30" y2="406.30" stroke="#333" stroke-width="1.0"/>
<line x1="133.40" y1="406.30" x2="133.40" y2="407.70" stroke="#444" stroke-width="0.6"/>
<line x1="140.90" y1="406.30" x2="140.90" y2="407.10" stroke="#444" stroke-width="0.6"/>
<line x1="145.28" y1="406.30" x2="145.28" y2="407.10" stroke="#444" stroke-width="0.6"/>
<line x1="148.39" y1="406.30" x2="148.39" y2="407.10" stroke="#444" stroke-width="0.6"/>
<line x1="150.80" y1="406.30" x2="150.80" y2="407.10" stroke="#444" stroke-width="0.6"/>
<line x1="152.78" y1="406.30" x2="152.78" y2="407.10" stroke="#444" stroke-width="0.6"/>
<line x1="154.44" y1="406.30" x2="154.44" y2="407.10" stroke="#444" stroke-width="0.6"/>
<line x1="155.89" y1="406.30" x2="155.89" y2="407.10" stroke="#444" stroke-width="0.6"/>
<line x1="157.16" y1="406.30" x2="157.16" y2="407.10" stroke="#444" stroke-width="0.6"/>
<line x1="158.30" y1="406.30" x2="158.30" y2="407.70" stroke="#444" stroke-width="0.6"/>
<line x1="165.80" y1="406.30" x2="165.80" y2="407.10" stroke="#444" stroke-width="0.6"/>
<line x1="170.18" y1="406.30" x2="170.18" y2="407.10" stroke="#444" stroke-width="0.6"/>
<line x1="173.29" y1="406.30" x2="173.29" y2="407.10" stroke="#444" stroke-width="0.6"/>
<line x1="175.70" y1="406.30" x2="175.70" y2="407.10" stroke="#444" stroke-width="0.6"/>
<line x1="177.68" y1="406.30" x2="177.68" y2="407.10" stroke="#444" stroke-width="0.6"/>
<line x1="179.34" y1="406.30" x2="179.34" y2="407.10" stroke="#444" stroke-width="0.6"/>
<line x1="180.79" y1="406.30" x2="180.79" y2="407.10" stroke="#444" stroke-width="0.6"/>
<line x1="182.06" y1="406.30" x2="182.06" y2="407.10" stroke="#444" stroke-width="0.6"/>
<line x1="183.20" y1="406.30" x2="183.20" y2="407.70" stroke="#444" stroke-width="0.6"/>
<line x1="190.70" y1="406.30" x2="190.70" y2="407.10" stroke="#444" stroke-width="0.6"/>
<line x1="195.08" y1="406.30" x2="195.08" y2="407.10" stroke="#444" stroke-width="0.6"/>
<line x1="198.19" y1="406.30" x2="198.19" y2="407.10" stroke="#444" stroke-width="0.6"/>
<line x1="200.60" y1="406.30" x2="200.60" y2="407.10" stroke="#444" stroke-width="0.6"/>
<line x1="202.58" y1="406.30" x2="202.58" y2="407.10" stroke="#444" stroke-width="0.6"/>
<line x1="204.24" y1="406.30" x2="204.24" y2="407.10" stroke="#444" stroke-width="0.6"/>
<line x1="205.69" y1="406.30" x2="205.69" y2="407.10" stroke="#444" stroke-width="0.6"/>
<line x1="206.96" y1="406.30" x2="206.96" y2="407.10" stroke="#444" stroke-width="0.6"/>
<line x1="208.10" y1="406.30" x2="208.10" y2="407.70" stroke="#444" stroke-width="0.6"/>
<line x1="215.60" y1="406.30" x2="215.60" y2="407.10" stroke="#444" stroke-width="0.6"/>
<line x1="219.98" y1="406.30" x2="219.98" y2="407.10" stroke="#444" stroke-width="0.6"/>
<line x1="223.09" y1="406.30" x2="223.09" y2="407.10" stroke="#444" stroke-width="0.6"/>
<line x1="225.50" y1="406.30" x2="225.50" y2="407.10" stroke="#444" stroke-width="0.6"/>
<line x1="227.48" y1="406.30" x2="227.48" y2="407.10" stroke="#444" stroke-width="0.6"/>
<line x1="229.14" y1="406.30" x2="229.14" y2="407.10" stroke="#444" stroke-width="0.6"/>
<line x1="230.59" y1="406.30" x2="230.59" y2="407.10" stroke="#444" stroke-width="0.6"/>
<text x="133.40" y="415.80" font-size="6.3" text-anchor="middle" font-weight="normal">1</text>
<text x="158.30" y="415.80" font-size="6.3" text-anchor="middle" font-weight="normal">10</text>
<text x="183.40" y="415.80" font-size="6.3" text-anchor="middle" font-weight="normal">100</text>
<text x="206.80" y="415.80" font-size="6.3" text-anchor="middle" font-weight="normal">1000</text>
<text x="51.40" y="193.00" font-size="6.9" text-anchor="start" font-weight="bold">Isotype control</text>
<text x="56.40" y="207.60" font-size="6.9" text-anchor="start" font-weight="bold">No treatment</text>
<text x="68.80" y="220.00" font-size="6.8" text-anchor="start" font-weight="bold">Imiquimod</text>
<line x1="49.40" y1="193.70" x2="43.35" y2="199.75" stroke="#000" stroke-width="1.4"/>
<path d="M41.93,198.34 L44.76,201.17 L40.80,202.30 Z" fill="#000" stroke="none" stroke-width="1"/>
<line x1="54.90" y1="208.80" x2="48.83" y2="214.94" stroke="#000" stroke-width="1.4"/>
<path d="M47.41,213.53 L50.25,216.35 L46.30,217.50 Z" fill="#000" stroke="none" stroke-width="1"/>
<line x1="67.50" y1="221.80" x2="61.47" y2="227.28" stroke="#000" stroke-width="1.4"/>
<path d="M60.12,225.80 L62.81,228.76 L58.80,229.70 Z" fill="#000" stroke="none" stroke-width="1"/>
</svg>
</body></html>
